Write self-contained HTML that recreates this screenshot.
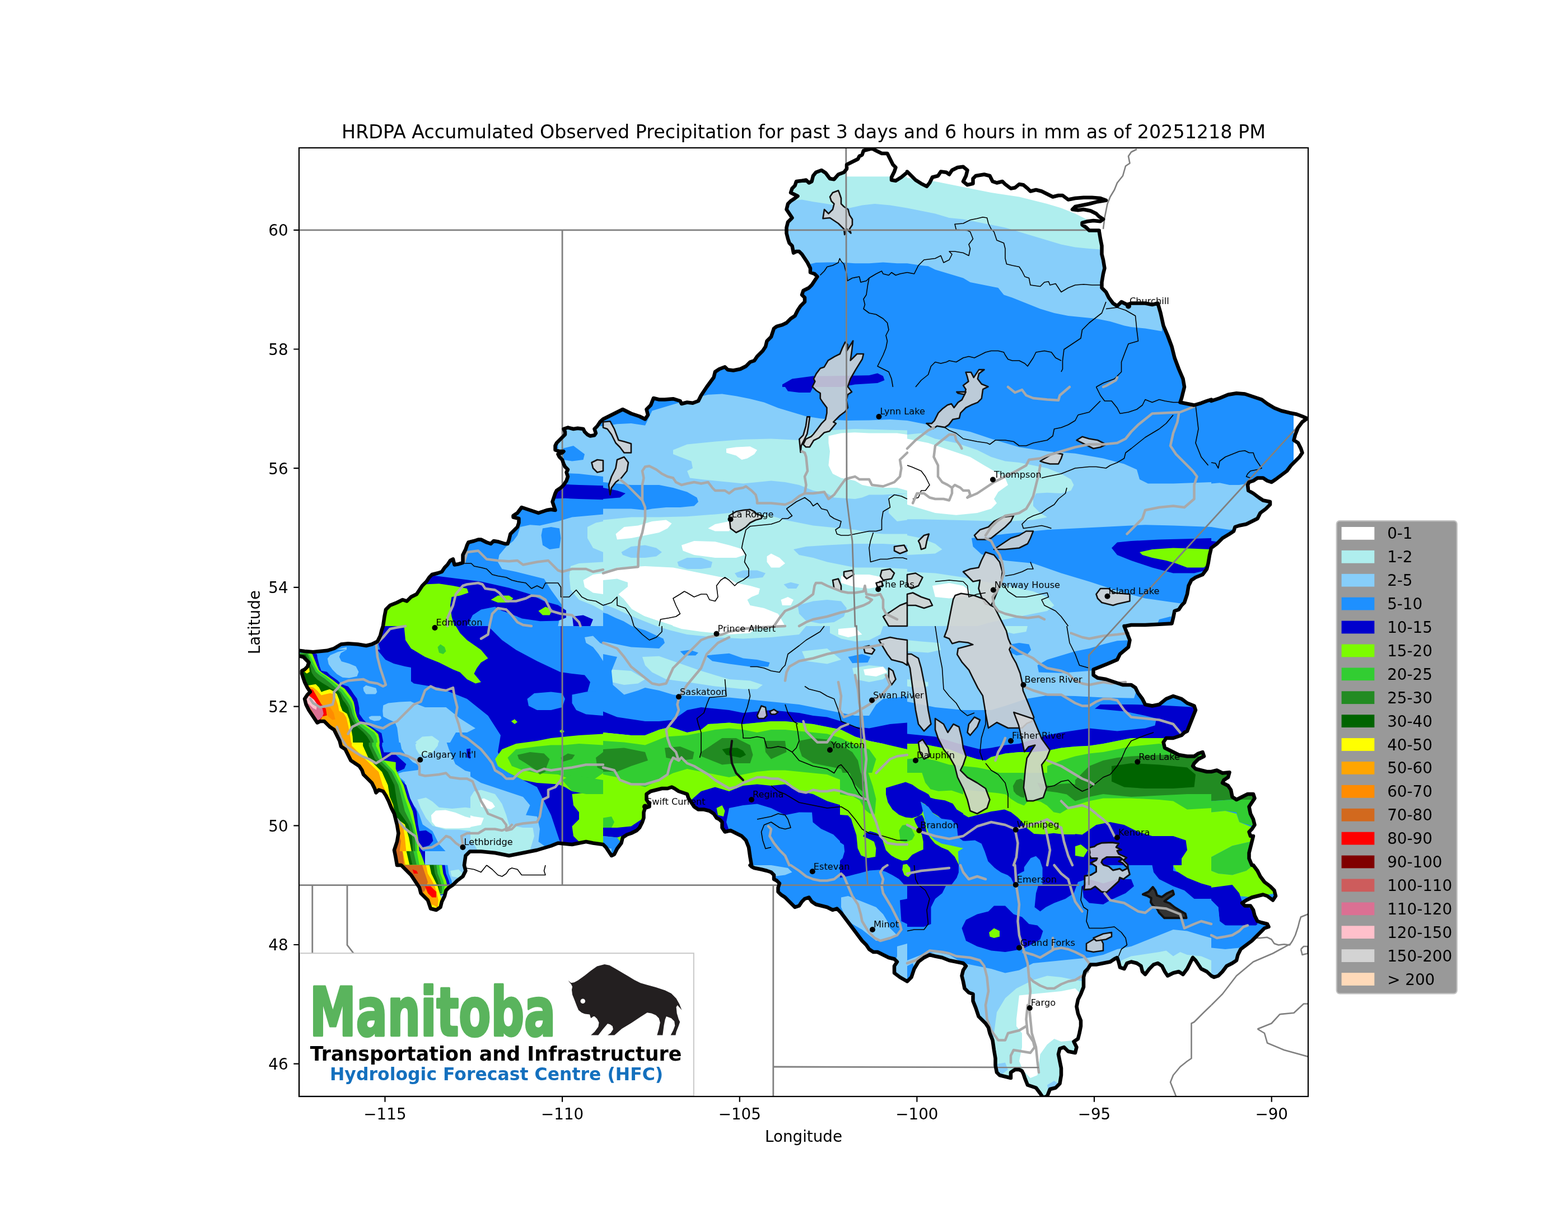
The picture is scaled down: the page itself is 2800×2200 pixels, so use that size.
<!DOCTYPE html><html><head><meta charset="utf-8"><title>HRDPA Accumulated Observed Precipitation</title>
<style>html,body{margin:0;padding:0;background:#fff;}svg{display:block;}text{font-family:"DejaVu Sans","Liberation Sans",sans-serif;}</style></head><body>
<svg xmlns="http://www.w3.org/2000/svg" width="2800" height="2200" viewBox="0 0 2800 2200">
<rect x="0" y="0" width="2800" height="2200" fill="#fff"/>
<defs>
<clipPath id="axclip"><rect x="534" y="264" width="1802" height="1694"/></clipPath>
<clipPath id="basin"><polygon points="534.0,1161.8 544.0,1163.0 559.0,1164.2 571.5,1163.0 584.0,1161.8 596.5,1158.0 609.0,1150.5 621.5,1149.2 639.0,1150.5 654.0,1153.0 664.0,1150.5 674.0,1145.5 679.0,1135.5 681.5,1125.5 684.0,1118.0 684.0,1118.0 686.5,1101.0 689.0,1088.5 696.5,1081.0 709.0,1076.0 719.0,1071.0 726.5,1073.5 734.0,1066.0 744.0,1061.0 749.0,1053.5 754.0,1046.0 761.5,1038.5 766.5,1031.0 771.5,1026.0 781.5,1023.5 789.0,1021.0 794.0,1013.5 799.0,1008.5 804.0,1001.0 809.0,998.5 811.5,1008.5 819.0,1007.2 826.5,1004.8 826.5,991.0 831.5,981.0 834.0,973.5 836.5,968.5 846.5,966.0 854.0,963.5 859.0,963.5 869.0,968.5 876.5,971.0 881.5,966.0 889.0,967.2 901.5,971.0 906.5,971.0 909.0,963.5 911.5,953.5 916.5,948.5 924.0,941.0 926.5,933.5 926.5,926.0 916.5,923.5 916.5,921.0 924.0,916.0 931.5,906.0 939.0,908.5 946.5,911.0 954.0,913.5 961.5,916.0 969.0,913.5 976.5,911.0 984.0,909.8 991.5,911.0 989.0,903.5 986.5,896.0 989.0,888.5 991.5,881.0 994.0,876.0 1001.5,871.0 1006.5,866.0 1011.5,858.5 1014.0,851.0 1011.5,843.5 1014.0,838.5 1009.0,833.5 1006.5,828.5 1004.0,821.0 999.0,816.0 996.5,811.0 1004.0,808.5 1006.5,806.0 999.0,806.0 991.5,803.5 991.5,796.0 994.0,791.0 999.0,786.0 1004.0,781.0 1009.0,776.0 1009.0,771.0 1006.5,766.0 1014.0,763.5 1024.0,766.0 1031.5,764.8 1041.5,766.0 1044.0,771.0 1049.0,776.0 1054.0,778.5 1061.5,777.2 1064.0,773.5 1061.5,766.0 1066.5,761.0 1071.5,753.5 1077.0,748.5 1077.0,748.5 1087.0,743.5 1097.0,738.5 1112.0,731.0 1127.0,738.5 1142.0,743.5 1152.0,748.5 1157.0,741.0 1154.5,731.0 1162.0,723.5 1167.0,711.0 1177.0,713.5 1187.0,713.5 1202.0,712.2 1214.5,716.0 1217.0,721.0 1227.0,718.5 1237.0,719.8 1247.0,716.0 1252.0,706.0 1257.0,698.5 1262.0,691.0 1262.0,691.0 1274.5,674.0 1277.0,664.0 1284.5,659.0 1294.5,655.2 1299.5,660.2 1309.5,661.5 1322.0,659.0 1332.0,654.0 1339.5,646.5 1347.0,644.0 1352.0,636.5 1362.0,626.5 1367.0,619.0 1369.5,609.0 1377.0,601.5 1379.5,594.0 1382.0,586.5 1387.0,582.8 1397.0,580.2 1404.5,576.5 1412.0,569.0 1419.5,564.0 1424.5,554.0 1429.5,546.5 1437.0,539.0 1437.0,531.5 1432.0,526.5 1434.5,519.0 1444.5,514.0 1449.5,509.0 1454.5,501.5 1459.5,494.0 1454.5,489.0 1447.0,486.5 1447.0,479.0 1442.0,469.0 1437.0,461.5 1432.0,454.0 1427.0,449.0 1422.0,449.0 1417.0,451.5 1414.5,439.0 1409.5,434.0 1407.0,426.5 1404.5,416.5 1404.5,406.5 1407.0,396.5 1414.5,389.0 1409.5,381.5 1404.5,374.0 1407.0,364.0 1412.0,359.0 1419.5,354.0 1424.5,350.2 1417.0,346.5 1412.0,344.0 1414.5,336.5 1419.5,331.5 1422.0,324.0 1432.0,322.8 1439.5,321.5 1444.5,326.5 1449.5,324.0 1452.0,314.0 1457.0,307.8 1467.0,304.0 1474.5,309.0 1482.0,319.0 1489.5,320.2 1497.0,311.5 1507.0,307.8 1512.0,301.5 1512.0,294.0 1522.0,289.0 1532.0,284.0 1534.5,279.0 1539.5,276.5 1542.0,269.0 1552.0,266.5 1557.0,265.2 1564.5,269.0 1574.5,274.0 1584.5,274.0 1589.5,284.0 1594.5,294.0 1599.5,299.0 1597.0,306.5 1592.0,316.5 1592.0,321.5 1599.5,322.8 1609.5,316.5 1620.0,307.8 1620.0,306.5 1627.5,314.0 1635.0,321.5 1645.0,327.8 1655.0,332.8 1660.0,326.5 1665.0,316.5 1675.0,314.0 1680.0,306.5 1690.0,307.8 1695.0,311.5 1700.0,304.0 1710.0,299.0 1720.0,297.8 1727.5,304.0 1725.0,314.0 1720.0,324.0 1727.5,330.2 1737.5,327.8 1737.5,319.0 1742.5,314.0 1757.5,311.5 1767.5,314.0 1772.5,324.0 1780.0,326.5 1790.0,324.0 1795.0,329.0 1805.0,336.5 1812.5,335.2 1820.0,329.0 1827.5,330.2 1835.0,336.5 1840.0,341.5 1850.0,339.0 1860.0,341.5 1870.0,346.5 1880.0,351.5 1890.0,349.0 1897.5,349.0 1907.5,356.5 1920.0,354.0 1935.0,352.8 1950.0,352.8 1965.0,354.0 1975.0,357.8 1960.0,360.2 1945.0,364.0 1932.5,366.5 1920.0,369.0 1915.0,374.0 1925.0,375.2 1935.0,374.0 1947.5,376.5 1957.5,381.5 1962.5,386.5 1970.0,391.5 1965.0,395.2 1952.5,394.0 1942.5,395.2 1932.5,397.8 1932.5,401.5 1940.0,406.5 1945.0,411.5 1962.5,411.5 1965.0,426.5 1967.5,439.0 1967.5,454.0 1970.0,464.0 1972.5,479.0 1970.0,489.0 1967.5,504.0 1967.5,514.0 1975.0,521.5 1980.0,531.5 1987.5,541.5 1995.0,546.5 2002.5,539.0 2012.5,544.0 2020.0,541.5 2032.5,541.5 2045.0,541.5 2057.5,544.0 2067.5,541.5 2072.5,559.0 2077.5,581.5 2085.0,599.0 2092.5,619.0 2097.5,639.0 2105.0,659.0 2112.5,676.5 2115.0,691.0 2115.0,691.0 2112.5,701.0 2110.0,711.0 2107.5,718.5 2120.0,721.0 2132.5,723.5 2145.0,719.8 2155.0,716.0 2163.0,713.5 2163.0,716.0 2178.0,711.0 2193.0,704.8 2208.0,702.2 2223.0,703.5 2238.0,708.5 2253.0,713.5 2263.0,721.0 2275.5,728.5 2288.0,733.5 2303.0,737.2 2315.5,739.8 2325.5,743.5 2334.2,747.2 2325.5,753.5 2318.0,763.5 2313.0,776.0 2310.5,786.0 2318.0,791.0 2323.0,801.0 2325.5,808.5 2320.5,816.0 2313.0,823.5 2305.5,831.0 2298.0,841.0 2288.0,848.5 2278.0,856.0 2270.5,861.0 2263.0,858.5 2255.5,853.5 2245.5,853.5 2238.0,858.5 2230.5,861.0 2228.0,866.0 2229.2,876.0 2238.0,881.0 2248.0,888.5 2255.5,893.5 2268.0,896.0 2268.0,901.0 2260.5,908.5 2250.5,916.0 2245.5,926.0 2235.5,931.0 2225.5,936.0 2213.0,938.5 2205.5,941.0 2203.0,948.5 2195.5,953.5 2183.0,961.0 2173.0,971.0 2163.0,978.5 2163.0,978.5 2160.0,991.0 2157.5,1006.0 2155.0,1016.0 2147.5,1026.0 2135.0,1031.0 2127.5,1036.0 2122.5,1046.0 2120.0,1061.0 2115.0,1076.0 2110.0,1081.0 2105.0,1088.5 2097.5,1091.0 2095.0,1103.5 2092.5,1113.5 2070.0,1114.8 2045.0,1116.0 2020.0,1116.0 2010.0,1118.0 2007.5,1118.0 2012.5,1130.5 2017.5,1143.0 2015.0,1155.5 2000.0,1168.0 1995.0,1178.0 1977.5,1185.5 1965.0,1190.5 1952.5,1195.5 1952.5,1205.5 1960.0,1210.5 1975.0,1213.0 1990.0,1218.0 2005.0,1223.0 2020.0,1223.0 2027.5,1228.0 2032.5,1238.0 2040.0,1248.0 2045.0,1258.0 2057.5,1260.5 2070.0,1258.0 2082.5,1248.0 2095.0,1243.0 2110.0,1248.0 2120.0,1255.5 2132.5,1260.5 2135.0,1268.0 2130.0,1280.5 2125.0,1293.0 2120.0,1305.5 2115.0,1308.0 2110.0,1313.0 2095.0,1318.0 2082.5,1318.0 2077.5,1325.5 2080.0,1335.5 2095.0,1343.0 2105.0,1348.0 2120.0,1350.5 2132.5,1350.5 2140.0,1345.5 2147.5,1343.0 2150.0,1350.5 2140.0,1355.5 2132.5,1363.0 2130.0,1368.0 2135.0,1373.0 2145.0,1375.5 2155.0,1378.0 2163.0,1378.0 2163.0,1378.0 2173.0,1375.5 2183.0,1380.5 2195.5,1379.2 2193.0,1388.0 2185.5,1393.0 2183.0,1398.0 2193.0,1403.0 2198.0,1410.5 2200.5,1423.0 2208.0,1428.0 2218.0,1423.0 2228.0,1418.0 2238.0,1418.0 2240.5,1425.5 2235.5,1433.0 2230.5,1440.5 2233.0,1453.0 2238.0,1463.0 2240.5,1473.0 2235.5,1480.5 2230.5,1485.5 2233.0,1493.0 2238.0,1493.0 2235.5,1503.0 2233.0,1513.0 2230.5,1523.0 2230.5,1533.0 2235.5,1545.0 2238.0,1545.0 2245.5,1555.0 2250.5,1565.0 2258.0,1575.0 2268.0,1582.5 2275.5,1590.0 2278.0,1600.0 2273.0,1607.5 2263.0,1600.0 2255.5,1597.5 2245.5,1600.0 2235.5,1602.5 2225.5,1607.5 2218.0,1612.5 2223.0,1617.5 2233.0,1617.5 2238.0,1625.0 2240.5,1635.0 2245.5,1645.0 2253.0,1647.5 2263.0,1650.0 2265.5,1655.0 2258.0,1657.5 2250.5,1665.0 2243.0,1672.5 2235.5,1680.0 2225.5,1687.5 2215.5,1695.0 2210.5,1705.0 2208.0,1715.0 2200.5,1720.0 2190.5,1725.0 2183.0,1735.0 2175.5,1742.5 2168.0,1745.0 2163.0,1742.5 2163.0,1742.5 2155.0,1735.0 2145.0,1730.0 2135.0,1715.0 2130.0,1710.0 2125.0,1720.0 2120.0,1730.0 2112.5,1740.0 2105.0,1735.0 2095.0,1737.5 2085.0,1742.5 2080.0,1735.0 2075.0,1725.0 2067.5,1720.0 2060.0,1722.5 2052.5,1730.0 2045.0,1740.0 2040.0,1735.0 2037.5,1725.0 2030.0,1720.0 2020.0,1717.5 2012.5,1720.0 2007.5,1730.0 2000.0,1727.5 1997.5,1717.5 1995.0,1710.0 1990.0,1712.5 1982.5,1717.5 1970.0,1720.0 1957.5,1722.5 1947.5,1722.5 1942.5,1730.0 1937.5,1735.0 1935.0,1745.0 1935.0,1762.5 1930.0,1775.0 1925.0,1785.0 1922.5,1797.5 1925.0,1810.0 1930.0,1822.5 1930.0,1832.5 1927.5,1845.0 1925.0,1855.0 1917.5,1860.0 1922.5,1870.0 1920.0,1880.0 1907.5,1877.5 1900.0,1870.0 1892.5,1872.5 1890.0,1882.5 1892.5,1895.0 1895.0,1907.5 1895.0,1920.0 1892.5,1935.0 1885.0,1942.5 1875.0,1945.0 1870.0,1957.5 1862.5,1960.0 1857.5,1952.5 1850.0,1942.5 1842.5,1940.0 1835.0,1937.5 1830.0,1925.0 1827.5,1917.5 1825.0,1912.5 1820.0,1910.0 1812.5,1910.0 1805.0,1915.0 1805.0,1925.0 1795.0,1922.5 1785.0,1920.0 1780.0,1915.0 1777.5,1902.5 1777.5,1890.0 1775.0,1875.0 1772.5,1857.5 1767.5,1845.0 1765.0,1835.0 1760.0,1827.5 1752.5,1820.0 1747.5,1815.0 1742.5,1800.0 1737.5,1787.5 1737.5,1775.0 1730.0,1772.5 1722.5,1765.0 1720.0,1752.5 1717.5,1742.5 1720.0,1732.5 1725.0,1725.0 1720.0,1720.0 1707.5,1717.5 1695.0,1715.0 1682.5,1710.0 1670.0,1707.5 1660.0,1705.0 1650.0,1710.0 1640.0,1717.5 1632.5,1730.0 1627.5,1745.0 1620.0,1752.5 1620.0,1752.5 1607.0,1745.0 1597.0,1737.5 1597.0,1725.0 1602.0,1717.5 1597.0,1712.5 1587.0,1710.0 1577.0,1705.0 1567.0,1700.0 1559.5,1700.0 1552.0,1695.0 1547.0,1687.5 1539.5,1680.0 1532.0,1670.0 1524.5,1660.0 1517.0,1650.0 1509.5,1640.0 1502.0,1630.0 1494.5,1622.5 1487.0,1625.0 1477.0,1620.0 1467.0,1617.5 1457.0,1615.0 1449.5,1610.0 1444.5,1602.5 1437.0,1605.0 1432.0,1610.0 1427.0,1617.5 1419.5,1620.0 1414.5,1615.0 1409.5,1610.0 1402.0,1602.5 1394.5,1597.5 1389.5,1592.5 1389.5,1585.0 1392.0,1577.5 1387.0,1572.5 1382.0,1570.0 1382.0,1562.5 1377.0,1557.5 1369.5,1555.0 1359.5,1552.5 1347.0,1550.0 1342.0,1547.5 1339.5,1545.0 1342.0,1545.0 1339.5,1530.5 1337.0,1513.0 1332.0,1500.5 1324.5,1493.0 1314.5,1488.0 1304.5,1483.0 1294.5,1485.5 1289.5,1478.0 1289.5,1468.0 1284.5,1463.0 1279.5,1460.5 1274.5,1453.0 1267.0,1448.0 1257.0,1445.5 1247.0,1445.5 1239.5,1440.5 1234.5,1433.0 1229.5,1425.5 1227.0,1418.0 1219.5,1415.5 1212.0,1413.0 1204.5,1408.0 1199.5,1405.5 1192.0,1408.0 1182.0,1408.0 1172.0,1410.5 1162.0,1413.0 1154.5,1418.0 1154.5,1428.0 1159.5,1435.5 1159.5,1440.5 1152.0,1443.0 1149.5,1450.5 1149.5,1460.5 1147.0,1468.0 1142.0,1478.0 1137.0,1483.0 1127.0,1488.0 1119.5,1490.5 1112.0,1495.5 1109.5,1505.5 1102.0,1515.5 1097.0,1525.5 1092.0,1528.0 1087.0,1520.5 1082.0,1513.0 1077.0,1508.0 1077.0,1508.0 1059.0,1505.5 1046.5,1503.0 1034.0,1505.5 1021.5,1508.0 996.5,1505.5 984.0,1510.5 959.0,1518.0 934.0,1523.0 909.0,1528.0 884.0,1523.0 859.0,1520.5 839.0,1520.5 831.5,1528.0 829.0,1545.0 829.0,1545.0 831.5,1555.0 826.5,1565.0 816.5,1572.5 809.0,1580.0 801.5,1585.0 796.5,1590.0 794.0,1600.0 789.0,1610.0 786.5,1620.0 779.0,1625.0 769.0,1622.5 766.5,1615.0 764.0,1607.5 756.5,1600.0 751.5,1595.0 749.0,1585.0 744.0,1577.5 739.0,1570.0 734.0,1562.5 726.5,1555.0 719.0,1547.5 716.5,1545.0 709.0,1545.0 706.5,1530.5 704.0,1518.0 709.0,1503.0 711.5,1488.0 709.0,1473.0 706.5,1463.0 704.0,1453.0 699.0,1443.0 694.0,1430.5 689.0,1420.5 684.0,1413.0 676.5,1410.5 671.5,1415.5 669.0,1408.0 664.0,1398.0 656.5,1390.5 649.0,1383.0 646.5,1375.5 641.5,1368.0 634.0,1363.0 626.5,1358.0 621.5,1348.0 616.5,1338.0 609.0,1333.0 606.5,1323.0 601.5,1313.0 596.5,1303.0 589.0,1298.0 584.0,1293.0 579.0,1288.0 571.5,1288.0 566.5,1290.5 561.5,1283.0 556.5,1275.5 551.5,1268.0 546.5,1258.0 544.0,1248.0 549.0,1240.5 554.0,1235.5 549.0,1228.0 544.0,1218.0 541.5,1210.5 539.0,1203.0 539.0,1198.0 544.0,1195.5 549.0,1190.5 551.5,1183.0 546.5,1178.0 541.5,1173.0 529.0,1170.5 529.0,1161.8"/></clipPath>
</defs>
<g clip-path="url(#axclip)">
<defs>
<clipPath id="ct01"><rect x="533.7" y="690.7" width="543.6" height="427.6"/></clipPath>
<clipPath id="ct02"><rect x="533.7" y="1117.7" width="543.6" height="427.6"/></clipPath>
<clipPath id="ct03"><rect x="533.7" y="1544.7" width="543.6" height="427.6"/></clipPath>
<clipPath id="ct10"><rect x="1076.7" y="263.7" width="543.6" height="427.6"/></clipPath>
<clipPath id="ct11"><rect x="1076.7" y="690.7" width="543.6" height="427.6"/></clipPath>
<clipPath id="ct12"><rect x="1076.7" y="1117.7" width="543.6" height="427.6"/></clipPath>
<clipPath id="ct13"><rect x="1076.7" y="1544.7" width="543.6" height="427.6"/></clipPath>
<clipPath id="ct20"><rect x="1619.7" y="263.7" width="543.6" height="427.6"/></clipPath>
<clipPath id="ct21"><rect x="1619.7" y="690.7" width="543.6" height="427.6"/></clipPath>
<clipPath id="ct22"><rect x="1619.7" y="1117.7" width="543.6" height="427.6"/></clipPath>
<clipPath id="ct23"><rect x="1619.7" y="1544.7" width="543.6" height="427.6"/></clipPath>
<clipPath id="ct31"><rect x="2162.7" y="690.7" width="543.6" height="427.6"/></clipPath>
<clipPath id="ct32"><rect x="2162.7" y="1117.7" width="543.6" height="427.6"/></clipPath>
<clipPath id="ct33"><rect x="2162.7" y="1544.7" width="543.6" height="427.6"/></clipPath>
</defs>
<g clip-path="url(#basin)">
<rect x="520" y="250" width="1830" height="1720" fill="#1E90FF"/>
<g clip-path="url(#ct01)">
<polygon points="996.5,761.0 1077.0,761.0 1077.0,851.0 1034.0,846.0 1009.0,844.8 996.5,841.0" fill="#87CEFA"/>
<polygon points="1004.0,801.0 1024.0,796.0 1044.0,811.0 1041.5,821.0 1021.5,823.5 1006.5,821.0" fill="#1E90FF"/>
<polygon points="979.0,863.5 1009.0,864.8 1034.0,866.0 1077.0,867.2 1077.0,892.2 1034.0,891.0 1009.0,889.8 979.0,891.0" fill="#0000CD"/>
<polygon points="924.0,956.0 929.0,941.0 946.5,937.2 964.0,938.5 996.5,931.0 1021.5,923.5 1077.0,918.5 1077.0,1118.0 996.5,1118.0 1004.0,1081.0 984.0,1053.5 971.5,1033.5 946.5,1027.2 921.5,1021.0 896.5,1016.0 889.0,1003.5 891.5,991.0 904.0,976.0 916.5,966.0" fill="#87CEFA"/>
<polygon points="969.0,943.5 984.0,941.0 999.0,943.5 1001.5,961.0 999.0,978.5 981.5,981.0 969.0,973.5 966.5,956.0" fill="#1E90FF"/>
<polygon points="1049.0,941.0 1064.0,933.5 1077.0,931.0 1077.0,986.0 1059.0,978.5 1049.0,961.0" fill="#AFEEEE"/>
<polygon points="1019.0,1011.0 1034.0,1006.0 1077.0,1003.5 1077.0,1091.0 1059.0,1081.0 1034.0,1071.0 1019.0,1053.5 1016.5,1028.5" fill="#AFEEEE"/>
<polygon points="1041.5,1036.0 1059.0,1026.0 1077.0,1023.5 1077.0,1061.0 1059.0,1058.5 1044.0,1048.5" fill="#FFFFFF"/>
<polygon points="759.0,1026.0 809.0,1032.2 859.0,1038.5 909.0,1049.8 946.5,1061.0 972.5,1074.0 996.5,1080.5 1011.0,1090.0 1011.0,1103.0 996.5,1108.5 964.5,1109.2 932.2,1104.5 900.0,1091.8 884.0,1088.5 859.0,1091.0 844.0,1098.5 834.0,1118.0 684.0,1118.0 684.0,1066.0 734.0,1036.0" fill="#0000CD"/>
<polygon points="1022.0,1101.0 1041.5,1098.5 1059.0,1106.0 1054.0,1118.5 1024.0,1118.5" fill="#0000CD"/>
<polygon points="684.0,1091.0 709.0,1071.0 749.0,1051.0 759.0,1043.5 784.0,1042.2 809.0,1046.0 834.0,1051.0 836.5,1058.5 821.5,1063.5 806.5,1066.0 804.0,1081.0 806.5,1101.0 811.5,1118.0 684.0,1118.0" fill="#7CFC00"/>
<polygon points="876.5,1071.0 889.0,1063.5 909.0,1063.5 916.5,1068.5 909.0,1076.0 889.0,1076.0" fill="#7CFC00"/>
<polygon points="961.5,1091.0 974.0,1083.5 986.5,1088.5 981.5,1098.5 969.0,1098.5" fill="#7CFC00"/>
<polygon points="844.0,1098.5 859.0,1088.5 884.0,1083.5 896.5,1091.0 924.0,1101.0 939.0,1116.0 939.0,1118.0 844.0,1118.0" fill="#1E90FF"/>
</g>
<g clip-path="url(#ct10)">
<polygon points="1377.0,264.0 1620.0,264.0 1620.0,470.2 1602.0,470.2 1577.0,468.5 1552.0,470.2 1527.0,470.2 1502.0,468.5 1477.0,468.5 1457.0,469.0 1447.0,471.5 1377.0,471.5" fill="#87CEFA"/>
<polygon points="1377.0,264.0 1620.0,264.0 1620.0,371.5 1589.5,366.5 1562.0,364.0 1539.5,366.5 1517.0,371.5 1502.0,369.0 1477.0,364.0 1452.0,360.2 1432.0,356.5 1409.5,359.0 1377.0,359.0" fill="#AFEEEE"/>
<polygon points="1397.0,686.5 1414.5,676.5 1452.0,671.5 1477.0,671.5 1514.5,671.0 1552.0,670.2 1567.0,666.5 1577.0,671.5 1579.5,679.0 1567.0,684.0 1527.0,686.5 1502.0,691.0 1397.0,691.0" fill="#0000CD"/>
</g>
<g clip-path="url(#ct20)">
<polygon points="1620.0,264.0 2070.0,264.0 2075.0,591.5 2045.0,586.5 2020.0,584.0 2007.5,581.5 1982.5,574.0 1957.5,569.0 1932.5,566.5 1907.5,564.0 1882.5,559.0 1857.5,551.5 1832.5,541.5 1807.5,531.5 1792.5,526.5 1782.5,514.0 1770.0,511.5 1745.0,506.5 1732.5,504.0 1720.0,496.5 1695.0,489.0 1670.0,481.5 1657.5,475.2 1645.0,474.0 1620.0,470.2" fill="#87CEFA"/>
<polygon points="1620.0,264.0 2070.0,264.0 1970.0,449.0 1962.5,445.2 1945.0,444.0 1920.0,441.5 1895.0,436.5 1870.0,429.0 1845.0,421.5 1820.0,414.0 1795.0,406.5 1770.0,401.5 1745.0,396.5 1720.0,391.5 1695.0,389.0 1670.0,381.5 1645.0,376.5 1620.0,371.5" fill="#AFEEEE"/>
<polygon points="1617.5,261.5 2070.0,261.5 2070.0,404.0 1970.0,404.0 1945.0,394.0 1920.0,381.5 1895.0,371.5 1870.0,364.0 1820.0,351.5 1770.0,344.0 1720.0,334.0 1670.0,324.0 1620.0,317.8 1617.5,317.8" fill="#FFFFFF"/>
</g>
<g clip-path="url(#ct11)">
<polygon points="1077.0,761.0 1102.0,757.2 1127.0,756.0 1152.0,759.8 1164.5,733.5 1189.5,726.0 1214.5,718.5 1239.5,711.0 1264.5,704.8 1289.5,703.5 1314.5,707.2 1339.5,712.2 1364.5,718.5 1389.5,728.5 1414.5,736.0 1439.5,743.5 1464.5,747.2 1489.5,749.8 1514.5,751.0 1552.0,750.5 1589.5,749.0 1620.0,751.0 1620.0,1118.0 1077.0,1118.0" fill="#87CEFA"/>
<polygon points="1402.0,691.0 1452.0,691.0 1447.0,701.0 1427.0,701.0 1407.0,698.5" fill="#0000CD"/>
<polygon points="1202.0,803.5 1227.0,793.5 1277.0,788.5 1327.0,784.8 1377.0,783.5 1427.0,786.0 1452.0,773.5 1477.0,768.5 1527.0,766.0 1620.0,768.5 1620.0,881.0 1577.0,883.5 1552.0,883.5 1539.5,888.5 1527.0,891.0 1489.5,888.5 1477.0,881.0 1452.0,876.0 1427.0,866.0 1402.0,861.0 1377.0,858.5 1352.0,861.0 1327.0,863.5 1302.0,861.0 1277.0,858.5 1252.0,856.0 1232.0,853.5 1227.0,841.0 1237.0,836.0 1234.5,823.5 1214.5,816.0 1202.0,811.0" fill="#AFEEEE"/>
<polygon points="1297.0,801.0 1314.5,798.5 1339.5,797.2 1352.0,803.5 1347.0,811.0 1334.5,818.5 1324.5,821.0 1314.5,813.5 1297.0,808.5" fill="#FFFFFF"/>
<polygon points="1479.5,778.5 1502.0,773.5 1527.0,772.2 1552.0,773.5 1577.0,773.5 1602.0,773.5 1620.0,776.0 1620.0,876.0 1602.0,871.0 1577.0,871.0 1552.0,868.5 1539.5,866.0 1527.0,858.5 1502.0,853.5 1487.0,846.0 1479.5,831.0 1482.0,806.0 1479.5,791.0" fill="#FFFFFF"/>
<polygon points="1077.0,861.0 1102.0,863.5 1127.0,866.0 1152.0,866.0 1177.0,866.0 1202.0,871.0 1227.0,878.5 1244.5,888.5 1247.0,896.0 1239.5,903.5 1214.5,906.0 1189.5,906.0 1164.5,908.5 1152.0,911.0 1127.0,908.5 1102.0,908.5 1077.0,908.5" fill="#1E90FF"/>
<polygon points="1077.0,871.0 1102.0,876.0 1117.0,881.0 1107.0,888.5 1077.0,891.0" fill="#0000CD"/>
<polygon points="1077.0,928.5 1127.0,923.5 1177.0,923.5 1227.0,922.2 1277.0,918.5 1302.0,916.0 1327.0,913.5 1352.0,916.0 1377.0,921.0 1402.0,928.5 1427.0,933.5 1452.0,938.5 1477.0,941.0 1502.0,943.5 1527.0,946.0 1552.0,951.0 1577.0,953.5 1620.0,953.5 1620.0,1118.0 1077.0,1118.0" fill="#AFEEEE"/>
<polygon points="1587.0,886.0 1620.0,881.0 1620.0,928.5 1602.0,931.0 1587.0,916.0" fill="#AFEEEE"/>
<polygon points="1109.5,986.0 1127.0,976.0 1152.0,973.5 1172.0,978.5 1182.0,986.0 1172.0,993.5 1152.0,996.0 1127.0,996.0 1112.0,991.0" fill="#87CEFA"/>
<polygon points="1209.5,1003.5 1227.0,996.0 1252.0,996.0 1272.0,1003.5 1269.5,1013.5 1252.0,1016.0 1227.0,1016.0 1212.0,1011.0" fill="#87CEFA"/>
<polygon points="1312.0,1023.5 1327.0,1018.5 1352.0,1018.5 1367.0,1023.5 1362.0,1031.0 1339.5,1033.5 1317.0,1031.0" fill="#87CEFA"/>
<polygon points="1417.0,981.0 1439.5,976.0 1477.0,973.5 1527.0,971.0 1577.0,971.0 1620.0,973.5 1620.0,1016.0 1577.0,1013.5 1527.0,1013.5 1477.0,1003.5 1452.0,996.0 1427.0,991.0" fill="#87CEFA"/>
<polygon points="1399.5,1043.5 1412.0,1039.8 1427.0,1043.5 1422.0,1051.0 1407.0,1051.0" fill="#87CEFA"/>
<polygon points="1424.5,1081.0 1452.0,1073.5 1477.0,1071.0 1502.0,1073.5 1512.0,1086.0 1507.0,1101.0 1489.5,1111.0 1464.5,1113.5 1439.5,1108.5 1427.0,1096.0" fill="#87CEFA"/>
<polygon points="1099.5,953.5 1114.5,941.0 1139.5,938.5 1164.5,931.0 1189.5,928.5 1199.5,934.8 1192.0,943.5 1177.0,951.0 1152.0,956.0 1127.0,961.0 1102.0,963.5" fill="#FFFFFF"/>
<polygon points="1264.5,943.5 1277.0,936.0 1302.0,931.0 1307.0,941.0 1302.0,948.5 1277.0,948.5" fill="#FFFFFF"/>
<polygon points="1217.0,973.5 1239.5,966.0 1277.0,967.2 1302.0,973.5 1327.0,981.0 1329.5,991.0 1314.5,996.0 1277.0,996.0 1239.5,991.0 1219.5,983.5" fill="#FFFFFF"/>
<polygon points="1369.5,993.5 1377.0,988.5 1392.0,996.0 1402.0,1006.0 1392.0,1013.5 1377.0,1013.5 1369.5,1003.5" fill="#FFFFFF"/>
<polygon points="1077.0,1023.5 1102.0,1013.5 1152.0,1011.0 1202.0,1013.5 1227.0,1018.5 1252.0,1023.5 1277.0,1028.5 1302.0,1033.5 1314.5,1041.0 1339.5,1046.0 1357.0,1051.0 1354.5,1061.0 1342.0,1066.0 1334.5,1071.0 1339.5,1081.0 1364.5,1086.0 1389.5,1096.0 1402.0,1118.0 1202.0,1118.0 1200.0,1116.5 1172.5,1107.8 1150.5,1100.2 1128.2,1087.8 1113.5,1069.5 1104.0,1061.2 1121.0,1047.5 1121.0,1040.0 1102.0,1036.0 1077.0,1036.0" fill="#FFFFFF"/>
<polygon points="1077.0,1036.0 1102.0,1033.5 1121.0,1040.0 1121.0,1047.5 1104.0,1061.2 1113.5,1069.5 1128.2,1087.8 1150.5,1100.2 1172.5,1107.8 1200.0,1116.5 1202.0,1118.0 1077.0,1118.0" fill="#AFEEEE"/>
<polygon points="1077.0,1077.2 1084.2,1081.2 1099.0,1087.0 1113.5,1093.8 1128.2,1100.2 1150.5,1109.2 1172.5,1118.0 1077.0,1118.0" fill="#87CEFA"/>
<polygon points="1077.0,1094.0 1084.2,1096.0 1099.0,1103.2 1113.5,1109.2 1128.2,1118.0 1077.0,1118.0" fill="#1E90FF"/>
<polygon points="1394.5,1071.0 1407.0,1066.0 1417.0,1071.0 1412.0,1081.0 1397.0,1081.0" fill="#FFFFFF"/>
<polygon points="1502.0,1028.5 1527.0,1026.0 1552.0,1026.0 1577.0,1031.0 1577.0,1046.0 1552.0,1051.0 1527.0,1048.5 1502.0,1041.0" fill="#FFFFFF"/>
</g>
<g clip-path="url(#ct21)">
<polygon points="1620.0,751.0 1657.5,758.5 1695.0,763.5 1732.5,771.0 1770.0,783.5 1820.0,798.5 1870.0,806.0 1920.0,809.8 1970.0,818.5 2007.5,828.5 2030.0,838.5 2035.0,856.0 2050.0,863.5 2095.0,863.5 2163.0,861.0 2163.0,1118.0 1620.0,1118.0" fill="#87CEFA"/>
<polygon points="1735.0,961.0 1795.0,953.5 1870.0,946.0 1970.0,941.0 2045.0,937.2 2095.0,938.5 2163.0,941.0 2163.0,1091.0 2115.0,1078.5 2045.0,1068.5 1995.0,1054.8 1945.0,1038.5 1895.0,1023.5 1845.0,1006.0 1795.0,1001.0 1752.5,989.8 1737.5,976.0" fill="#1E90FF"/>
<polygon points="2065.0,1118.0 2070.0,1106.0 2090.0,1101.0 2107.5,1101.0 2107.5,1118.0" fill="#1E90FF"/>
<polygon points="1620.0,776.0 1645.0,773.5 1670.0,783.5 1707.5,791.0 1745.0,803.5 1770.0,816.0 1795.0,823.5 1820.0,826.0 1845.0,831.0 1870.0,836.0 1895.0,846.0 1912.5,856.0 1917.5,866.0 1912.5,876.0 1895.0,881.0 1870.0,879.8 1850.0,881.0 1845.0,891.0 1845.0,903.5 1857.5,916.0 1870.0,923.5 1845.0,928.5 1795.0,931.0 1745.0,929.8 1695.0,928.5 1645.0,927.2 1620.0,927.2" fill="#AFEEEE"/>
<polygon points="1620.0,956.0 1645.0,961.0 1670.0,971.0 1682.5,981.0 1670.0,988.5 1645.0,989.8 1620.0,991.0" fill="#AFEEEE"/>
<polygon points="1620.0,1021.0 1670.0,1023.5 1720.0,1031.0 1745.0,1036.0 1795.0,1046.0 1845.0,1056.0 1870.0,1066.0 1882.5,1081.0 1870.0,1091.0 1845.0,1096.0 1820.0,1101.0 1795.0,1106.0 1770.0,1111.0 1745.0,1118.0 1620.0,1118.0" fill="#AFEEEE"/>
<polygon points="1620.0,783.5 1657.5,791.0 1695.0,803.5 1732.5,816.0 1757.5,831.0 1775.0,841.0 1795.0,853.5 1800.0,866.0 1782.5,878.5 1775.0,891.0 1780.0,898.5 1770.0,908.5 1745.0,916.0 1707.5,919.8 1670.0,916.0 1645.0,908.5 1620.0,901.0" fill="#FFFFFF"/>
<polygon points="1665.0,1046.0 1695.0,1041.0 1720.0,1046.0 1732.5,1056.0 1725.0,1066.0 1695.0,1068.5 1670.0,1066.0" fill="#FFFFFF"/>
<polygon points="1985.0,978.5 1995.0,968.5 2020.0,966.0 2070.0,963.5 2120.0,962.2 2163.0,961.0 2163.0,1016.0 2132.5,1023.5 2095.0,1023.5 2057.5,1013.5 2020.0,1001.0 1995.0,991.0" fill="#0000CD"/>
<polygon points="2035.0,986.0 2057.5,981.0 2095.0,978.5 2132.5,979.8 2163.0,981.0 2163.0,1001.0 2150.0,1013.5 2120.0,1013.5 2100.0,1006.0 2082.5,1001.0 2057.5,996.0 2040.0,991.0" fill="#7CFC00"/>
</g>
<g clip-path="url(#ct31)">
<polygon points="2163.0,863.5 2178.0,862.2 2195.5,866.0 2213.0,866.0 2228.0,863.5 2288.0,863.5 2288.0,991.0 2163.0,991.0" fill="#87CEFA"/>
<polygon points="2163.0,941.0 2178.0,943.5 2195.5,946.0 2205.5,944.8 2238.0,946.0 2238.0,991.0 2163.0,991.0" fill="#1E90FF"/>
<polygon points="2163.0,966.0 2173.0,967.2 2178.0,973.5 2163.0,981.0" fill="#0000CD"/>
<polygon points="2310.0,738.5 2338.0,738.5 2338.0,823.5 2310.0,823.5" fill="#FFFFFF"/>
</g>
<g clip-path="url(#ct22)">
<polygon points="1620.0,1118.0 2020.0,1118.0 2032.5,1223.0 2025.0,1246.8 1970.0,1245.5 1920.0,1243.0 1870.0,1241.8 1832.5,1248.0 1795.0,1260.5 1770.0,1268.0 1720.0,1268.0 1670.0,1263.0 1620.0,1253.0" fill="#87CEFA"/>
<polygon points="1852.5,1188.0 1870.0,1178.0 1895.0,1170.5 1920.0,1163.0 1945.0,1158.0 1970.0,1150.5 1995.0,1144.2 2020.0,1143.0 2020.0,1195.5 1970.0,1194.2 1945.0,1198.0 1895.0,1201.8 1855.0,1200.5" fill="#1E90FF"/>
<polygon points="1805.0,1150.5 1820.0,1148.0 1837.5,1150.5 1841.2,1160.5 1835.0,1168.0 1815.0,1170.5 1805.0,1165.5" fill="#1E90FF"/>
<polygon points="1620.0,1143.0 1645.0,1145.5 1677.5,1148.0 1680.0,1160.5 1657.5,1165.5 1620.0,1163.0" fill="#AFEEEE"/>
<polygon points="1795.0,1118.0 1835.0,1118.0 1832.5,1128.0 1810.0,1131.8 1795.0,1128.0" fill="#AFEEEE"/>
<polygon points="1620.0,1213.0 1640.0,1215.5 1657.5,1218.0 1657.5,1225.5 1635.0,1228.0 1620.0,1225.5" fill="#AFEEEE"/>
<polygon points="1620.0,1310.5 1670.0,1315.5 1720.0,1330.5 1750.0,1338.0 1770.0,1335.5 1795.0,1330.5 1820.0,1328.0 1845.0,1320.5 1870.0,1313.0 1895.0,1308.0 1920.0,1304.2 1945.0,1300.5 1970.0,1303.0 1995.0,1305.5 2020.0,1303.0 2045.0,1300.5 2062.5,1295.5 2065.0,1283.0 2045.0,1278.0 2010.0,1270.5 1955.0,1265.5 1965.0,1258.0 2020.0,1258.0 2070.0,1259.2 2135.0,1263.0 2135.0,1318.0 2082.5,1318.0 2045.0,1318.0 2020.0,1318.0 1995.0,1323.0 1970.0,1328.0 1945.0,1331.8 1920.0,1333.0 1895.0,1335.5 1870.0,1340.5 1845.0,1343.0 1820.0,1343.0 1795.0,1345.5 1770.0,1351.8 1760.0,1358.0 1745.0,1355.5 1720.0,1348.0 1695.0,1338.0 1670.0,1333.0 1645.0,1328.0 1620.0,1328.0" fill="#0000CD"/>
<polygon points="1620.0,1328.0 1645.0,1328.0 1670.0,1333.0 1695.0,1338.0 1720.0,1348.0 1745.0,1355.5 1760.0,1358.0 1770.0,1351.8 1795.0,1345.5 1820.0,1343.0 1845.0,1343.0 1870.0,1340.5 1895.0,1335.5 1920.0,1333.0 1945.0,1331.8 1970.0,1328.0 1995.0,1323.0 2020.0,1318.0 2045.0,1318.0 2082.5,1318.0 2163.0,1318.0 2163.0,1545.0 1620.0,1545.0" fill="#7CFC00"/>
<polygon points="1620.0,1355.5 1645.0,1353.0 1670.0,1358.0 1695.0,1365.5 1720.0,1368.0 1745.0,1370.5 1770.0,1375.5 1795.0,1383.0 1807.5,1393.0 1820.0,1393.0 1827.5,1403.0 1820.0,1418.0 1795.0,1423.0 1770.0,1428.0 1745.0,1425.5 1720.0,1423.0 1695.0,1423.0 1670.0,1413.0 1657.5,1400.5 1645.0,1388.0 1620.0,1383.0" fill="#32CD32"/>
<polygon points="1870.0,1368.0 1895.0,1358.0 1920.0,1350.5 1945.0,1345.5 1970.0,1343.0 1995.0,1338.0 2020.0,1333.0 2045.0,1330.5 2070.0,1328.0 2095.0,1333.0 2120.0,1343.0 2163.0,1343.0 2163.0,1443.0 2120.0,1445.5 2107.5,1438.0 2095.0,1430.5 2070.0,1428.0 2020.0,1425.5 1970.0,1425.5 1945.0,1430.5 1920.0,1438.0 1895.0,1448.0 1882.5,1443.0 1870.0,1418.0" fill="#32CD32"/>
<polygon points="1807.5,1395.5 1820.0,1390.5 1832.5,1393.0 1845.0,1403.0 1837.5,1418.0 1820.0,1420.5 1810.0,1408.0" fill="#228B22"/>
<polygon points="1870.0,1405.5 1895.0,1398.0 1920.0,1393.0 1945.0,1368.0 1970.0,1358.0 1995.0,1353.0 2020.0,1350.5 2070.0,1348.0 2120.0,1348.0 2163.0,1353.0 2163.0,1418.0 2120.0,1418.0 2070.0,1420.5 2020.0,1423.0 1970.0,1418.0 1945.0,1423.0 1920.0,1430.5 1895.0,1428.0 1870.0,1418.0" fill="#228B22"/>
<polygon points="1985.0,1368.0 2020.0,1363.0 2070.0,1365.5 2120.0,1370.5 2135.0,1383.0 2132.5,1405.5 2095.0,1408.0 2045.0,1408.0 2007.5,1405.5 1985.0,1395.5" fill="#006400"/>
<polygon points="1620.0,1393.0 1650.0,1405.5 1670.0,1428.0 1707.5,1440.5 1745.0,1443.0 1795.0,1443.0 1820.0,1455.5 1845.0,1473.0 1870.0,1480.5 1907.5,1488.0 1932.5,1490.5 1957.5,1473.0 1982.5,1468.0 2007.5,1473.0 2032.5,1485.5 2057.5,1493.0 2095.0,1493.0 2117.5,1500.5 2120.0,1518.0 2110.0,1533.0 2110.0,1545.0 1620.0,1545.0" fill="#0000CD"/>
<polygon points="1650.0,1430.5 1682.5,1435.5 1702.5,1450.5 1695.0,1473.0 1670.0,1480.5 1657.5,1463.0 1650.0,1443.0" fill="#1E90FF"/>
<polygon points="1740.0,1480.5 1770.0,1473.0 1795.0,1483.0 1800.0,1508.0 1782.5,1530.5 1757.5,1543.0 1740.0,1518.0" fill="#1E90FF"/>
<polygon points="1620.0,1463.0 1640.0,1468.0 1647.5,1488.0 1635.0,1503.0 1620.0,1505.5" fill="#7CFC00"/>
<polygon points="1915.0,1513.0 1930.0,1508.0 1942.5,1518.0 1935.0,1530.5 1920.0,1528.0" fill="#7CFC00"/>
</g>
<g clip-path="url(#ct02)">
<polygon points="674.0,1118.0 1077.0,1118.0 1077.0,1508.0 1001.5,1508.0 984.0,1455.5 959.0,1405.5 909.0,1380.5 889.0,1343.0 894.0,1313.0 871.5,1278.0 834.0,1248.0 784.0,1228.0 739.0,1220.5 684.0,1178.0 674.0,1143.0" fill="#0000CD"/>
<polygon points="871.5,1118.0 1001.5,1118.0 1001.5,1200.5 959.0,1180.5 921.5,1160.5 896.5,1143.0" fill="#1E90FF"/>
<polygon points="1004.0,1118.0 1077.0,1118.0 1077.0,1235.5 1049.0,1235.5 1054.0,1218.0 1044.0,1205.5 1021.5,1203.0 1004.0,1200.5" fill="#1E90FF"/>
<polygon points="1044.0,1138.0 1059.0,1135.5 1071.5,1148.0 1077.0,1150.5 1077.0,1180.5 1069.0,1168.0 1059.0,1155.5 1046.5,1148.0" fill="#87CEFA"/>
<polygon points="941.5,1248.0 954.0,1238.0 984.0,1235.5 1004.0,1238.0 1009.0,1248.0 1004.0,1263.0 984.0,1268.0 959.0,1268.0 944.0,1260.5" fill="#1E90FF"/>
<polygon points="1021.5,1240.5 1046.5,1235.5 1077.0,1233.0 1077.0,1278.0 1046.5,1275.5 1029.0,1268.0 1021.5,1255.5" fill="#1E90FF"/>
<polygon points="721.5,1118.0 814.0,1118.0 821.5,1130.5 834.0,1143.0 859.0,1160.5 871.5,1175.5 859.0,1183.0 851.5,1193.0 846.5,1203.0 859.0,1218.0 849.0,1220.5 834.0,1213.0 821.5,1200.5 809.0,1195.5 784.0,1183.0 759.0,1173.0 734.0,1158.0 724.0,1143.0" fill="#7CFC00"/>
<polygon points="781.5,1155.5 786.5,1150.5 794.0,1155.5 796.5,1163.0 791.5,1168.0 784.0,1165.5" fill="#32CD32"/>
<polygon points="884.0,1355.5 896.5,1338.0 921.5,1328.0 959.0,1323.0 984.0,1318.0 1009.0,1315.5 1034.0,1313.0 1077.0,1310.5 1077.0,1403.0 1059.0,1400.5 1046.5,1413.0 1034.0,1408.0 1021.5,1413.0 1009.0,1405.5 996.5,1400.5 959.0,1398.0 934.0,1393.0 909.0,1380.5 889.0,1368.0" fill="#7CFC00"/>
<polygon points="1021.5,1418.0 1046.5,1415.5 1077.0,1418.0 1077.0,1505.5 1034.0,1503.0 1024.0,1493.0 1021.5,1475.5 1034.0,1463.0 1034.0,1450.5 1024.0,1438.0" fill="#7CFC00"/>
<polygon points="912.8,1288.0 919.0,1284.2 924.0,1289.2 919.0,1293.0" fill="#7CFC00"/>
<polygon points="999.0,1305.5 1004.0,1301.8 1007.8,1306.8 1002.8,1309.2" fill="#7CFC00"/>
<polygon points="906.5,1353.0 921.5,1338.0 959.0,1333.0 984.0,1330.5 1009.0,1330.5 1034.0,1328.0 1077.0,1330.5 1077.0,1380.5 1059.0,1393.0 1046.5,1400.5 1021.5,1393.0 996.5,1383.0 959.0,1380.5 934.0,1375.5 914.0,1368.0" fill="#32CD32"/>
<polygon points="1004.0,1393.0 1021.5,1383.0 1046.5,1388.0 1077.0,1393.0 1077.0,1418.0 1046.5,1418.0 1021.5,1413.0" fill="#32CD32"/>
<polygon points="924.0,1348.0 946.5,1343.0 971.5,1345.5 981.5,1355.5 976.5,1368.0 974.0,1378.0 964.0,1383.0 954.0,1373.0 939.0,1363.0 926.5,1355.5" fill="#228B22"/>
<polygon points="1001.5,1353.0 1014.0,1345.5 1026.5,1348.0 1021.5,1355.5 1004.0,1360.5" fill="#228B22"/>
<polygon points="1064.0,1353.0 1077.0,1343.0 1077.0,1375.5 1066.5,1370.5" fill="#228B22"/>
<polygon points="584.0,1175.5 599.0,1160.5 619.0,1155.5 619.0,1168.0 606.5,1178.0 609.0,1193.0 621.5,1195.5 634.0,1193.0 641.5,1200.5 636.5,1208.0 609.0,1210.5 594.0,1203.0 586.5,1190.5" fill="#87CEFA"/>
<polygon points="649.0,1225.5 659.0,1223.0 671.5,1230.5 672.8,1238.0 664.0,1240.5 651.5,1238.0" fill="#87CEFA"/>
<polygon points="659.0,1280.5 671.5,1278.0 681.5,1283.0 676.5,1288.0 664.0,1288.0" fill="#87CEFA"/>
<polygon points="684.0,1258.0 734.0,1253.0 759.0,1263.0 796.5,1263.0 821.5,1283.0 849.0,1300.5 834.0,1308.0 814.0,1308.0 804.0,1325.5 784.0,1343.0 759.0,1358.0 751.5,1373.0 771.5,1378.0 796.5,1363.0 821.5,1375.5 859.0,1398.0 896.5,1410.5 934.0,1423.0 946.5,1438.0 939.0,1455.5 959.0,1458.0 964.0,1480.5 961.5,1503.0 979.0,1515.5 996.5,1508.0 996.5,1545.0 759.0,1545.0 749.0,1518.0 744.0,1493.0 734.0,1468.0 729.0,1438.0 724.0,1413.0 714.0,1388.0 709.0,1378.0 716.5,1358.0 719.0,1338.0 709.0,1318.0 706.5,1298.0 694.0,1285.5 684.0,1273.0" fill="#87CEFA"/>
<polygon points="741.5,1325.5 754.0,1315.5 771.5,1314.2 784.0,1323.0 781.5,1335.5 766.5,1343.0 749.0,1343.0 741.5,1338.0" fill="#AFEEEE"/>
<polygon points="746.5,1425.5 759.0,1423.0 784.0,1433.0 809.0,1438.0 834.0,1433.0 846.5,1413.0 859.0,1410.5 884.0,1418.0 896.5,1435.5 904.0,1455.5 909.0,1473.0 934.0,1478.0 951.5,1478.0 954.0,1493.0 946.5,1518.0 959.0,1545.0 871.5,1545.0 859.0,1528.0 846.5,1508.0 821.5,1488.0 784.0,1480.5 759.0,1473.0 754.0,1455.5 749.0,1440.5" fill="#AFEEEE"/>
<polygon points="771.5,1450.5 796.5,1445.5 821.5,1450.5 846.5,1458.0 864.0,1460.5 859.0,1473.0 834.0,1478.0 809.0,1478.0 784.0,1478.0 771.5,1468.0" fill="#FFFFFF"/>
<polygon points="856.5,1428.0 864.0,1425.5 879.0,1433.0 884.0,1440.5 876.5,1445.5 859.0,1440.5" fill="#FFFFFF"/>
<polygon points="556.5,1165.5 566.5,1165.5 584.0,1183.0 609.0,1220.5 634.0,1250.5 651.5,1278.0 674.0,1308.0 684.0,1333.0 694.0,1348.0 709.0,1353.0 724.0,1360.5 729.0,1370.5 709.0,1375.5 709.0,1393.0 719.0,1413.0 729.0,1438.0 739.0,1463.0 746.5,1483.0 771.5,1488.0 774.0,1503.0 759.0,1513.0 759.0,1545.0 746.5,1545.0 739.0,1518.0 729.0,1493.0 719.0,1468.0 709.0,1443.0 696.5,1418.0 684.0,1393.0 674.0,1368.0 664.0,1348.0 651.5,1330.5 634.0,1308.0 616.5,1288.0 599.0,1258.0 584.0,1233.0 566.5,1210.5 554.0,1193.0" fill="#0000CD"/>
<polygon points="556.5,1165.5 566.5,1168.0 571.5,1188.0 584.0,1205.5 599.0,1218.0 606.5,1225.5 616.5,1235.5 624.0,1250.5 634.0,1268.0 641.5,1283.0 651.5,1290.5 664.0,1303.0 674.0,1315.5 676.5,1330.5 674.0,1343.0 684.0,1355.5 696.5,1360.5 706.5,1365.5 706.5,1380.5 714.0,1395.5 716.5,1418.0 724.0,1443.0 731.5,1463.0 739.0,1480.5 744.0,1498.0 749.0,1518.0 754.0,1530.5 759.0,1545.0 259.0,1595.0 56.5,1115.5" fill="#7CFC00"/>
<polygon points="554.0,1168.0 564.0,1175.5 569.0,1193.0 584.0,1210.5 599.0,1223.0 606.5,1233.0 614.0,1243.0 621.5,1258.0 629.0,1273.0 639.0,1288.0 651.5,1298.0 661.5,1310.5 669.0,1323.0 671.5,1338.0 674.0,1348.0 684.0,1358.0 694.0,1365.5 699.0,1380.5 709.0,1398.0 711.5,1418.0 719.0,1443.0 726.5,1463.0 734.0,1483.0 739.0,1500.5 744.0,1518.0 749.0,1545.0 249.0,1595.0 54.0,1118.0" fill="#32CD32"/>
<polygon points="551.5,1170.5 559.0,1183.0 564.0,1198.0 579.0,1213.0 594.0,1225.5 604.0,1238.0 611.5,1250.5 619.0,1265.5 626.5,1280.5 636.5,1293.0 649.0,1303.0 656.5,1315.5 661.5,1330.5 666.5,1343.0 674.0,1353.0 684.0,1363.0 691.5,1378.0 699.0,1393.0 706.5,1418.0 711.5,1443.0 719.0,1463.0 726.5,1483.0 734.0,1503.0 739.0,1523.0 744.0,1545.0 244.0,1595.0 51.5,1120.5" fill="#228B22"/>
<polygon points="549.0,1175.5 554.0,1188.0 559.0,1203.0 571.5,1218.0 586.5,1230.5 599.0,1243.0 606.5,1255.5 614.0,1270.5 621.5,1288.0 629.0,1298.0 641.5,1305.5 649.0,1318.0 654.0,1333.0 659.0,1345.5 664.0,1355.5 674.0,1365.5 684.0,1380.5 691.5,1398.0 699.0,1418.0 704.0,1443.0 711.5,1463.0 719.0,1483.0 726.5,1503.0 731.5,1523.0 736.5,1545.0 236.5,1595.0 49.0,1125.5" fill="#006400"/>
<polygon points="544.0,1188.0 549.0,1200.5 554.0,1223.0 571.5,1230.5 589.0,1235.5 599.0,1248.0 604.0,1268.0 616.5,1288.0 621.5,1303.0 626.5,1318.0 634.0,1333.0 641.5,1343.0 649.0,1355.5 659.0,1365.5 669.0,1378.0 674.0,1393.0 684.0,1408.0 691.5,1423.0 694.0,1438.0 699.0,1450.5 704.0,1458.0 709.0,1473.0 719.0,1493.0 724.0,1513.0 731.5,1545.0 231.5,1595.0 44.0,1138.0" fill="#FFFF00"/>
<polygon points="541.5,1223.0 559.0,1223.0 571.5,1235.5 584.0,1240.5 594.0,1250.5 596.5,1268.0 606.5,1288.0 614.0,1308.0 616.5,1323.0 624.0,1338.0 634.0,1348.0 644.0,1358.0 651.5,1370.5 659.0,1383.0 669.0,1395.5 676.5,1408.0 684.0,1418.0 689.0,1433.0 694.0,1453.0 699.0,1468.0 709.0,1480.5 714.0,1498.0 719.0,1518.0 724.0,1545.0 224.0,1595.0 41.5,1173.0" fill="#FFA500"/>
<polygon points="654.0,1378.0 664.0,1383.0 674.0,1398.0 679.0,1408.0 669.0,1413.0 659.0,1398.0 651.5,1388.0" fill="#FF8C00"/>
<polygon points="706.5,1508.0 714.0,1508.0 719.0,1523.0 721.5,1545.0 706.5,1545.0" fill="#D2691E"/>
<polygon points="551.5,1228.0 566.5,1235.5 576.5,1253.0 581.5,1268.0 584.0,1280.5 576.5,1288.0 569.0,1290.5 559.0,1283.0 549.0,1268.0 544.0,1248.0" fill="#FF0000"/>
<polygon points="544.0,1243.0 554.0,1238.0 564.0,1248.0 571.5,1263.0 576.5,1278.0 569.0,1285.5 559.0,1278.0 549.0,1263.0" fill="#FFC0CB"/>
<polygon points="541.5,1193.0 546.5,1190.5 549.0,1198.0 544.0,1203.0" fill="#FFFF00"/>
</g>
<g clip-path="url(#ct12)">
<polygon points="1077.0,1118.0 1620.0,1118.0 1620.0,1545.0 1077.0,1545.0" fill="#87CEFA"/>
<polygon points="1077.0,1118.0 1128.2,1118.0 1152.0,1125.5 1184.5,1140.5 1187.0,1148.0 1177.0,1158.0 1127.0,1155.5 1077.0,1145.5" fill="#1E90FF"/>
<polygon points="1172.0,1118.0 1439.5,1118.0 1427.0,1133.0 1377.0,1138.0 1327.0,1140.5 1277.0,1138.0 1227.0,1133.0 1197.0,1125.5" fill="#AFEEEE"/>
<polygon points="1202.0,1118.0 1352.0,1118.0 1339.5,1130.5 1302.0,1133.0 1252.0,1128.0 1217.0,1123.0" fill="#FFFFFF"/>
<polygon points="1482.0,1118.0 1577.0,1118.0 1572.0,1133.0 1552.0,1143.0 1527.0,1145.5 1502.0,1140.5 1482.0,1130.5" fill="#AFEEEE"/>
<polygon points="1497.0,1123.0 1527.0,1120.5 1539.5,1133.0 1514.5,1138.0 1497.0,1133.0" fill="#FFFFFF"/>
<polygon points="1432.0,1163.0 1477.0,1158.0 1502.0,1178.0 1477.0,1185.5 1439.5,1180.5" fill="#AFEEEE"/>
<polygon points="1522.0,1193.0 1552.0,1188.0 1577.0,1190.5 1589.5,1200.5 1577.0,1213.0 1552.0,1218.0 1527.0,1213.0" fill="#AFEEEE"/>
<polygon points="1542.0,1195.5 1577.0,1190.5 1584.5,1200.5 1564.5,1208.0 1544.5,1205.5" fill="#FFFFFF"/>
<polygon points="1147.0,1173.0 1177.0,1171.8 1202.0,1180.5 1252.0,1198.0 1302.0,1213.0 1339.5,1215.5 1362.0,1223.0 1352.0,1230.5 1327.0,1230.5 1277.0,1225.5 1227.0,1218.0 1189.5,1213.0 1164.5,1200.5 1152.0,1188.0" fill="#AFEEEE"/>
<polygon points="1092.0,1195.5 1127.0,1198.0 1152.0,1213.0 1139.5,1220.5 1114.5,1223.0 1092.0,1218.0" fill="#AFEEEE"/>
<polygon points="1214.5,1163.0 1232.0,1160.5 1247.0,1165.5 1242.0,1170.5 1222.0,1170.5" fill="#1E90FF"/>
<polygon points="1259.5,1170.5 1302.0,1166.8 1327.0,1175.5 1352.0,1178.0 1374.5,1183.0 1372.0,1190.5 1339.5,1190.5 1302.0,1185.5 1272.0,1180.5" fill="#1E90FF"/>
<polygon points="1514.5,1173.0 1539.5,1168.0 1554.5,1173.0 1549.5,1183.0 1522.0,1184.2" fill="#1E90FF"/>
<polygon points="1077.0,1168.0 1102.0,1173.0 1092.0,1198.0 1094.5,1223.0 1114.5,1240.5 1139.5,1233.0 1152.0,1228.0 1177.0,1233.0 1202.0,1240.5 1227.0,1243.0 1252.0,1243.0 1277.0,1245.5 1302.0,1245.5 1327.0,1248.0 1352.0,1250.5 1377.0,1253.0 1402.0,1255.5 1427.0,1258.0 1452.0,1263.0 1477.0,1268.0 1502.0,1273.0 1527.0,1278.0 1552.0,1278.0 1564.5,1258.0 1577.0,1248.0 1602.0,1245.5 1620.0,1243.0 1620.0,1308.0 1077.0,1308.0" fill="#1E90FF"/>
<polygon points="1077.0,1270.5 1102.0,1280.5 1152.0,1288.0 1177.0,1288.0 1202.0,1285.5 1227.0,1268.0 1252.0,1263.0 1277.0,1265.5 1302.0,1268.0 1327.0,1273.0 1352.0,1270.5 1377.0,1268.0 1402.0,1270.5 1427.0,1273.0 1452.0,1278.0 1477.0,1280.5 1502.0,1288.0 1527.0,1298.0 1552.0,1300.5 1564.5,1298.0 1589.5,1293.0 1620.0,1290.5 1620.0,1338.0 1602.0,1335.5 1577.0,1328.0 1552.0,1323.0 1527.0,1315.5 1502.0,1303.0 1477.0,1298.0 1452.0,1293.0 1427.0,1290.5 1402.0,1288.0 1377.0,1288.0 1352.0,1290.5 1327.0,1293.0 1302.0,1290.5 1264.5,1293.0 1252.0,1303.0 1227.0,1308.0 1197.0,1298.0 1177.0,1303.0 1152.0,1313.0 1127.0,1313.0 1077.0,1308.0" fill="#0000CD"/>
<polygon points="1077.0,1308.0 1127.0,1313.0 1152.0,1313.0 1177.0,1303.0 1197.0,1298.0 1227.0,1308.0 1252.0,1303.0 1264.5,1293.0 1302.0,1290.5 1327.0,1293.0 1352.0,1290.5 1377.0,1288.0 1402.0,1288.0 1427.0,1290.5 1452.0,1293.0 1477.0,1298.0 1502.0,1303.0 1527.0,1315.5 1552.0,1323.0 1577.0,1328.0 1620.0,1338.0 1620.0,1545.0 1077.0,1545.0" fill="#7CFC00"/>
<polygon points="1077.0,1323.0 1114.5,1325.5 1152.0,1330.5 1189.5,1315.5 1227.0,1313.0 1252.0,1308.0 1277.0,1303.0 1302.0,1300.5 1327.0,1303.0 1352.0,1308.0 1377.0,1303.0 1402.0,1303.0 1427.0,1305.5 1452.0,1308.0 1477.0,1310.5 1502.0,1318.0 1527.0,1330.5 1552.0,1338.0 1564.5,1355.5 1557.0,1380.5 1552.0,1405.5 1547.0,1430.5 1527.0,1418.0 1502.0,1393.0 1477.0,1383.0 1452.0,1380.5 1427.0,1378.0 1402.0,1375.5 1377.0,1375.5 1352.0,1378.0 1327.0,1383.0 1302.0,1388.0 1277.0,1383.0 1252.0,1378.0 1227.0,1373.0 1202.0,1380.5 1177.0,1393.0 1152.0,1405.5 1127.0,1398.0 1102.0,1388.0 1077.0,1383.0" fill="#32CD32"/>
<polygon points="1077.0,1338.0 1114.5,1335.5 1152.0,1343.0 1157.0,1358.0 1127.0,1368.0 1102.0,1378.0 1077.0,1378.0" fill="#228B22"/>
<polygon points="1187.0,1335.5 1214.5,1333.0 1239.5,1343.0 1237.0,1355.5 1214.5,1358.0 1189.5,1353.0" fill="#228B22"/>
<polygon points="1252.0,1343.0 1289.5,1318.0 1314.5,1318.0 1339.5,1330.5 1344.5,1348.0 1339.5,1363.0 1314.5,1363.0 1289.5,1365.5 1277.0,1360.5 1252.0,1350.5" fill="#228B22"/>
<polygon points="1289.5,1338.0 1302.0,1335.5 1317.0,1335.5 1327.0,1340.5 1332.0,1348.0 1322.0,1353.0 1297.0,1348.0" fill="#006400"/>
<polygon points="1364.5,1323.0 1402.0,1323.0 1404.5,1343.0 1377.0,1355.5 1367.0,1343.0" fill="#228B22"/>
<polygon points="1427.0,1323.0 1452.0,1318.0 1477.0,1320.5 1502.0,1330.5 1522.0,1343.0 1532.0,1358.0 1537.0,1380.5 1539.5,1405.5 1544.5,1430.5 1534.5,1430.5 1522.0,1418.0 1509.5,1393.0 1502.0,1373.0 1477.0,1368.0 1452.0,1363.0 1432.0,1350.5 1427.0,1335.5" fill="#228B22"/>
<polygon points="1564.5,1343.0 1589.5,1343.0 1620.0,1340.5 1620.0,1393.0 1589.5,1383.0 1567.0,1368.0" fill="#7CFC00"/>
<polygon points="1232.0,1430.5 1252.0,1413.0 1277.0,1405.5 1302.0,1413.0 1327.0,1403.0 1352.0,1400.5 1377.0,1403.0 1402.0,1400.5 1427.0,1413.0 1452.0,1418.0 1477.0,1430.5 1502.0,1438.0 1514.5,1443.0 1517.0,1468.0 1522.0,1493.0 1527.0,1518.0 1532.0,1545.0 1339.5,1545.0 1327.0,1518.0 1302.0,1493.0 1277.0,1468.0 1252.0,1450.5 1239.5,1443.0" fill="#0000CD"/>
<polygon points="1302.0,1443.0 1327.0,1438.0 1352.0,1435.5 1377.0,1443.0 1402.0,1455.5 1427.0,1450.5 1450.0,1450.8 1451.5,1468.2 1466.2,1480.0 1488.2,1490.2 1503.0,1505.0 1512.0,1518.0 1514.5,1545.0 1339.5,1545.0 1332.0,1518.0 1317.0,1493.0 1302.0,1483.0 1297.0,1468.0" fill="#1E90FF"/>
<polygon points="1279.5,1443.0 1289.5,1438.0 1294.5,1448.0 1292.0,1458.0 1282.0,1455.5" fill="#7CFC00"/>
<polygon points="1582.0,1403.0 1602.0,1398.0 1620.0,1398.0 1620.0,1480.5 1602.0,1473.0 1589.5,1463.0 1582.0,1443.0 1582.0,1418.0" fill="#0000CD"/>
<polygon points="1602.0,1473.0 1620.0,1468.0 1620.0,1503.0 1607.0,1498.0" fill="#32CD32"/>
<polygon points="1077.0,1478.0 1102.0,1478.0 1127.0,1475.5 1149.5,1460.5 1149.5,1480.5 1127.0,1488.0 1102.0,1495.5 1077.0,1493.0" fill="#0000CD"/>
<polygon points="1077.0,1493.0 1102.0,1495.5 1109.5,1505.5 1097.0,1525.5 1077.0,1518.0" fill="#1E90FF"/>
<polygon points="1077.0,1513.0 1092.0,1515.5 1092.0,1528.0 1077.0,1528.0" fill="#87CEFA"/>
<polygon points="1077.0,1460.5 1092.0,1458.0 1097.0,1468.0 1092.0,1478.0 1077.0,1478.0" fill="#32CD32"/>
</g>
<g clip-path="url(#ct32)">
<polygon points="2163.0,1343.0 2263.0,1343.0 2263.0,1428.0 2200.5,1428.0 2163.0,1430.5" fill="#228B22"/>
<polygon points="2163.0,1430.5 2200.5,1428.0 2263.0,1428.0 2263.0,1478.0 2238.0,1475.5 2213.0,1468.0 2208.0,1450.5 2188.0,1448.0 2163.0,1450.5" fill="#32CD32"/>
<polygon points="2163.0,1450.5 2188.0,1448.0 2208.0,1453.0 2213.0,1468.0 2238.0,1478.0 2263.0,1478.0 2263.0,1500.5 2233.0,1503.0 2200.5,1510.5 2163.0,1530.5" fill="#7CFC00"/>
<polygon points="2163.0,1530.5 2200.5,1510.5 2233.0,1503.0 2263.0,1500.5 2263.0,1545.0 2163.0,1545.0" fill="#32CD32"/>
</g>
<g clip-path="url(#ct23)">
<polygon points="1620.0,1545.0 1707.5,1545.0 1695.0,1570.0 1682.5,1595.0 1670.0,1605.0 1662.5,1620.0 1662.5,1650.0 1650.0,1655.0 1620.0,1655.0" fill="#0000CD"/>
<polygon points="1770.0,1545.0 1827.5,1545.0 1832.5,1552.5 1815.0,1560.0 1795.0,1557.5 1775.0,1552.5" fill="#0000CD"/>
<polygon points="1860.0,1545.0 1945.0,1545.0 1940.0,1570.0 1925.0,1575.0 1917.5,1595.0 1902.5,1605.0 1882.5,1612.5 1867.5,1620.0 1857.5,1627.5 1847.5,1620.0 1850.0,1595.0 1857.5,1570.0" fill="#0000CD"/>
<polygon points="1717.5,1657.5 1725.0,1642.5 1745.0,1632.5 1765.0,1627.5 1775.0,1617.5 1795.0,1617.5 1810.0,1632.5 1825.0,1637.5 1837.5,1650.0 1852.5,1652.5 1862.5,1662.5 1857.5,1677.5 1840.0,1687.5 1825.0,1695.0 1795.0,1700.0 1770.0,1697.5 1745.0,1690.0 1725.0,1680.0" fill="#0000CD"/>
<polygon points="1766.2,1665.0 1775.0,1657.5 1785.0,1662.5 1785.0,1672.5 1775.0,1675.0 1767.5,1672.5" fill="#7CFC00"/>
<polygon points="1932.5,1582.5 1945.0,1570.0 1970.0,1577.5 1995.0,1570.0 2020.0,1570.0 2025.0,1582.5 2010.0,1595.0 1982.5,1607.5 1970.0,1615.0 1945.0,1612.5 1935.0,1602.5" fill="#0000CD"/>
<polygon points="2057.5,1545.0 2095.0,1545.0 2095.0,1555.0 2132.5,1565.0 2163.0,1570.0 2163.0,1605.0 2132.5,1605.0 2115.0,1590.0 2095.0,1582.5 2070.0,1570.0 2060.0,1557.5" fill="#0000CD"/>
<polygon points="2095.0,1545.0 2163.0,1545.0 2163.0,1582.5 2145.0,1577.5 2120.0,1567.5 2100.0,1555.0" fill="#7CFC00"/>
<polygon points="1620.0,1715.0 1645.0,1705.0 1670.0,1700.0 1695.0,1705.0 1720.0,1720.0 1745.0,1725.0 1770.0,1730.0 1795.0,1737.5 1820.0,1732.5 1845.0,1720.0 1870.0,1717.5 1895.0,1715.0 1920.0,1712.5 1945.0,1710.0 1970.0,1705.0 1995.0,1695.0 2020.0,1690.0 2045.0,1680.0 2070.0,1670.0 2095.0,1660.0 2120.0,1662.5 2145.0,1670.0 2163.0,1675.0 2163.0,1972.0 1620.0,1972.0" fill="#87CEFA"/>
<polygon points="1620.0,1725.0 1630.0,1720.0 1635.0,1735.0 1627.5,1747.5 1620.0,1750.0" fill="#1E90FF"/>
<polygon points="2002.5,1715.0 2020.0,1707.5 2070.0,1700.0 2082.5,1697.5 2095.0,1707.5 2107.5,1700.0 2120.0,1705.0 2145.0,1707.5 2163.0,1715.0 2163.0,1745.0 1995.0,1745.0" fill="#AFEEEE"/>
<polygon points="1775.0,1845.0 1780.0,1807.5 1795.0,1782.5 1815.0,1765.0 1845.0,1750.0 1870.0,1742.5 1895.0,1745.0 1920.0,1750.0 1935.0,1752.5 1935.0,1972.0 1770.0,1972.0" fill="#AFEEEE"/>
<polygon points="1780.0,1900.0 1795.0,1897.5 1800.0,1910.0 1790.0,1917.5 1780.0,1915.0" fill="#87CEFA"/>
<polygon points="1870.0,1937.5 1882.5,1930.0 1890.0,1935.0 1885.0,1945.0 1872.5,1950.0" fill="#87CEFA"/>
<polygon points="1815.0,1820.0 1820.0,1777.5 1845.0,1775.0 1870.0,1772.5 1895.0,1770.0 1920.0,1765.0 1930.0,1775.0 1927.5,1795.0 1930.0,1820.0 1925.0,1845.0 1920.0,1857.5 1895.0,1860.0 1882.5,1855.0 1870.0,1865.0 1857.5,1882.5 1852.5,1920.0 1840.0,1925.0 1827.5,1912.5 1820.0,1895.0 1825.0,1870.0 1825.0,1845.0 1815.0,1832.5" fill="#FFFFFF"/>
</g>
<g clip-path="url(#ct13)">
<polygon points="1337.0,1545.0 1377.0,1545.0 1407.0,1550.0 1414.5,1557.5 1402.0,1562.5 1382.0,1565.0 1377.0,1557.5 1364.5,1555.0 1347.0,1550.0" fill="#87CEFA"/>
<polygon points="1502.0,1602.5 1514.5,1600.0 1539.5,1610.0 1564.5,1620.0 1577.0,1632.5 1584.5,1645.0 1589.5,1657.5 1602.0,1670.0 1589.5,1677.5 1564.5,1680.0 1552.0,1670.0 1539.5,1660.0 1522.0,1650.0 1509.5,1637.5 1502.0,1620.0" fill="#87CEFA"/>
<polygon points="1602.0,1690.0 1620.0,1685.0 1620.0,1752.5 1602.0,1740.0 1597.0,1720.0 1602.0,1707.5" fill="#87CEFA"/>
<polygon points="1502.0,1545.0 1577.0,1545.0 1577.0,1560.0 1552.0,1565.0 1514.5,1567.5 1502.0,1557.5" fill="#0000CD"/>
<polygon points="1607.0,1607.5 1620.0,1605.0 1620.0,1650.0 1609.5,1645.0" fill="#0000CD"/>
</g>
<g clip-path="url(#ct03)">
<polygon points="534.0,1545.0 1077.0,1545.0 1077.0,1645.0 534.0,1645.0" fill="#87CEFA"/>
<polygon points="804.0,1555.0 819.0,1552.5 826.5,1560.0 819.0,1567.5 806.5,1565.0" fill="#AFEEEE"/>
<polygon points="799.0,1542.5 801.5,1560.0 806.5,1572.5 807.8,1582.5 806.5,1595.0 431.5,1670.0 424.0,1467.5" fill="#1E90FF"/>
<polygon points="794.0,1542.5 796.5,1560.0 801.5,1572.5 804.0,1582.5 801.5,1595.0 426.5,1670.0 419.0,1467.5" fill="#0000CD"/>
<polygon points="789.0,1542.5 791.5,1560.0 796.5,1572.5 799.0,1582.5 796.5,1595.0 421.5,1670.0 414.0,1467.5" fill="#7CFC00"/>
<polygon points="784.0,1542.5 786.5,1560.0 791.5,1572.5 794.0,1582.5 791.5,1595.0 416.5,1670.0 409.0,1467.5" fill="#32CD32"/>
<polygon points="779.0,1542.5 781.5,1560.0 786.5,1572.5 789.0,1582.5 789.0,1595.0 414.0,1670.0 404.0,1467.5" fill="#228B22"/>
<polygon points="774.0,1542.5 776.5,1560.0 781.5,1572.5 784.0,1582.5 785.2,1595.0 410.2,1670.0 399.0,1467.5" fill="#006400"/>
<polygon points="766.5,1542.5 770.2,1560.0 776.5,1572.5 781.5,1582.5 785.2,1595.0 789.0,1607.5 786.5,1620.0 411.5,1695.0 391.5,1467.5" fill="#FFFF00"/>
<polygon points="760.2,1542.5 764.0,1560.0 771.5,1572.5 776.5,1582.5 780.2,1595.0 782.8,1607.5 781.5,1620.0 406.5,1695.0 385.2,1467.5" fill="#FFA500"/>
<polygon points="709.0,1545.0 754.0,1545.0 759.0,1560.0 764.0,1575.0 759.0,1590.0 754.0,1595.0 744.0,1582.5 729.0,1560.0" fill="#D2691E"/>
<polygon points="759.0,1582.5 769.0,1582.5 779.0,1592.5 779.0,1602.5 771.5,1602.5 764.0,1595.0" fill="#FF0000"/>
<polygon points="736.5,1552.5 744.0,1555.0 746.5,1560.0 739.0,1560.0" fill="#FF0000"/>
<polygon points="769.0,1615.0 774.0,1616.2 780.2,1620.0 771.5,1622.5" fill="#FFFF00"/>
</g>
<g clip-path="url(#ct33)">
<polygon points="2163.0,1545.0 2238.0,1545.0 2225.5,1555.0 2200.5,1562.5 2175.5,1560.0 2163.0,1555.0" fill="#32CD32"/>
<polygon points="2163.0,1555.0 2175.5,1560.0 2200.5,1562.5 2225.5,1555.0 2238.0,1545.0 2278.0,1595.0 2238.0,1602.5 2213.0,1600.0 2200.5,1582.5 2163.0,1585.0" fill="#7CFC00"/>
<polygon points="2163.0,1585.0 2200.5,1580.0 2213.0,1595.0 2218.0,1610.0 2238.0,1627.5 2245.5,1650.0 2238.0,1657.5 2213.0,1655.0 2188.0,1652.5 2178.0,1645.0 2175.5,1620.0 2163.0,1607.5" fill="#0000CD"/>
<polygon points="2163.0,1607.5 2175.5,1620.0 2178.0,1645.0 2188.0,1652.5 2245.5,1652.5 2258.0,1655.0 2225.5,1685.0 2213.0,1692.5 2188.0,1695.0 2163.0,1692.5" fill="#1E90FF"/>
<polygon points="2163.0,1692.5 2188.0,1695.0 2213.0,1692.5 2225.5,1687.5 2213.0,1720.0 2175.5,1750.0 2163.0,1750.0" fill="#87CEFA"/>
</g>
<g clip-path="url(#ct10)">
<polygon points="1510.8,259.0 1627.0,259.0 1627.0,315.2 1510.8,315.2" fill="#FFFFFF"/>
</g>
<clipPath id="fx0"><rect x="1500" y="1380" width="220" height="200"/></clipPath>
<g clip-path="url(#fx0)">
<polygon points="1500.0,1380.0 1720.0,1380.0 1720.0,1580.0 1500.0,1580.0" fill="#7CFC00"/>
<polygon points="1500.0,1380.0 1550.4,1380.0 1558.5,1403.4 1564.4,1426.8 1562.1,1453.8 1552.7,1452.6 1544.5,1445.6 1535.1,1429.2 1523.4,1422.2 1500.0,1418.6" fill="#32CD32"/>
<polygon points="1517.6,1380.0 1537.5,1380.0 1543.3,1397.6 1542.2,1415.1 1535.1,1409.3 1523.4,1397.6" fill="#228B22"/>
<polygon points="1646.4,1380.0 1720.0,1380.0 1720.0,1418.6 1699.1,1411.6 1675.6,1412.8 1661.6,1409.3 1652.2,1397.6" fill="#32CD32"/>
<polygon points="1500.0,1454.9 1514.1,1456.1 1519.9,1462.0 1523.4,1473.7 1529.3,1491.2 1531.6,1514.7 1537.5,1527.5 1549.2,1532.2 1563.2,1529.9 1564.4,1514.7 1560.9,1503.0 1549.2,1497.1 1541.0,1493.6 1544.5,1487.7 1553.9,1484.2 1565.6,1487.7 1574.9,1495.9 1577.3,1504.1 1582.0,1518.2 1591.3,1527.5 1599.5,1532.2 1611.2,1536.9 1620.6,1535.7 1628.8,1526.4 1640.5,1520.5 1648.7,1517.0 1648.7,1503.0 1646.4,1491.2 1640.5,1479.5 1634.7,1469.0 1632.3,1462.0 1640.5,1457.3 1646.4,1454.9 1649.9,1462.0 1654.6,1485.4 1661.6,1497.1 1669.8,1506.5 1681.5,1513.5 1693.2,1518.2 1704.9,1529.9 1711.9,1543.9 1714.3,1580.0 1500.0,1580.0" fill="#0000CD"/>
<polygon points="1582.0,1406.9 1593.7,1403.4 1605.4,1399.9 1617.1,1396.4 1628.8,1401.1 1640.5,1409.3 1652.2,1415.1 1658.1,1418.6 1661.6,1424.5 1669.8,1426.8 1687.4,1429.2 1701.4,1435.0 1708.4,1445.6 1720.0,1452.6 1720.0,1503.0 1704.9,1491.2 1693.2,1473.7 1675.6,1457.3 1663.9,1450.3 1652.2,1436.2 1644.0,1431.5 1648.7,1445.6 1646.4,1452.6 1640.5,1457.3 1628.8,1460.8 1617.1,1459.6 1605.4,1454.9 1593.7,1445.6 1585.5,1432.7 1582.0,1418.6" fill="#0000CD"/>
<polygon points="1644.0,1431.5 1658.1,1440.9 1666.3,1452.6 1681.5,1462.0 1699.1,1464.3 1708.4,1473.7 1710.8,1494.8 1720.0,1501.8 1720.0,1514.7 1699.1,1510.0 1681.5,1506.5 1668.6,1499.4 1659.3,1490.1 1653.4,1473.7 1649.9,1456.1" fill="#1E90FF"/>
<polygon points="1500.0,1567.4 1517.6,1563.8 1535.1,1559.2 1552.7,1554.5 1570.3,1553.3 1582.0,1556.8 1593.7,1562.7 1605.4,1569.7 1614.8,1580.0 1500.0,1580.0" fill="#1E90FF"/>
<polygon points="1500.0,1504.1 1507.0,1508.8 1508.2,1520.5 1504.7,1532.2 1500.0,1536.9" fill="#1E90FF"/>
<polygon points="1710.8,1520.5 1720.0,1514.7 1720.0,1580.0 1699.1,1580.0 1708.4,1567.4 1711.9,1558.0 1711.9,1543.9" fill="#1E90FF"/>
<polygon points="1612.4,1543.9 1619.4,1542.8 1625.3,1549.8 1626.5,1561.5 1621.8,1566.2 1614.8,1562.7 1611.2,1553.3" fill="#7CFC00"/>
<polygon points="1605.4,1483.0 1611.2,1473.7 1619.4,1472.5 1626.5,1477.2 1633.5,1491.2 1628.8,1499.4 1617.1,1504.1 1607.7,1501.8" fill="#32CD32"/>
</g>
<clipPath id="fx1"><rect x="1720" y="1380" width="200" height="200"/></clipPath>
<g clip-path="url(#fx1)">
<polygon points="1700.0,1380.0 1920.0,1380.0 1920.0,1580.0 1700.0,1580.0" fill="#7CFC00"/>
<polygon points="1700.0,1380.0 1920.0,1380.0 1920.0,1440.9 1904.9,1445.6 1893.2,1452.6 1881.5,1450.3 1869.8,1438.5 1858.1,1431.5 1846.4,1429.2 1834.7,1431.5 1828.8,1438.5 1817.1,1433.9 1805.4,1426.8 1796.0,1418.6 1782.0,1416.3 1758.5,1414.0 1735.1,1411.6 1717.6,1409.3 1700.0,1408.1" fill="#32CD32"/>
<polygon points="1808.9,1403.4 1814.8,1392.9 1823.0,1390.5 1830.0,1395.2 1831.1,1409.3 1828.8,1424.5 1823.0,1423.3 1814.8,1418.6 1810.1,1412.8" fill="#228B22"/>
<polygon points="1852.2,1397.6 1875.6,1403.4 1893.2,1399.9 1910.8,1398.7 1920.0,1401.1 1920.0,1430.4 1904.9,1418.6 1887.4,1415.1 1869.8,1412.8 1858.1,1410.4" fill="#228B22"/>
<polygon points="1700.0,1433.9 1707.0,1440.9 1717.6,1452.6 1729.3,1459.6 1746.8,1454.9 1770.3,1449.1 1793.7,1445.6 1805.4,1450.3 1817.1,1459.6 1826.5,1469.0 1834.7,1479.5 1846.4,1488.9 1863.9,1490.1 1881.5,1487.7 1899.1,1490.1 1920.0,1490.1 1920.0,1580.0 1700.0,1580.0" fill="#0000CD"/>
<polygon points="1700.0,1497.1 1711.7,1500.6 1723.4,1501.8 1741.0,1500.6 1752.7,1506.5 1758.5,1520.5 1764.4,1538.1 1776.1,1549.8 1787.8,1558.0 1799.5,1562.7 1805.4,1567.4 1811.2,1580.0 1700.0,1580.0" fill="#1E90FF"/>
<polygon points="1828.8,1548.6 1840.5,1532.2 1849.9,1528.7 1856.9,1535.7 1861.6,1549.8 1861.6,1580.0 1817.1,1580.0 1817.1,1561.5 1828.8,1555.6" fill="#1E90FF"/>
<polygon points="1700.0,1483.0 1707.0,1485.4 1709.4,1497.1 1700.0,1498.3" fill="#1E90FF"/>
</g>
<clipPath id="fx2"><rect x="534" y="1160" width="200" height="170"/></clipPath>
<g clip-path="url(#fx2)">
<polygon points="534.0,1160.0 734.0,1160.0 734.0,1330.0 534.0,1330.0" fill="#1E90FF"/>
<polygon points="584.8,1175.9 589.7,1170.0 603.7,1164.0 619.6,1160.0 608.7,1166.0 605.7,1172.9 609.7,1180.9 623.6,1184.9 635.5,1189.9 640.5,1199.8 637.5,1207.8 623.6,1210.8 611.7,1209.8 601.7,1203.8 593.7,1195.8 586.8,1185.9" fill="#87CEFA"/>
<polygon points="648.5,1227.7 653.5,1223.7 671.4,1228.7 673.4,1235.7 670.4,1239.6 653.5,1239.6 649.5,1233.7" fill="#87CEFA"/>
<polygon points="658.4,1280.5 663.4,1278.5 679.3,1278.5 681.3,1282.4 677.4,1286.4 668.4,1287.4 660.4,1284.4" fill="#87CEFA"/>
<polygon points="684.3,1259.6 693.3,1255.6 713.2,1253.6 734.0,1252.6 734.0,1330.0 713.2,1330.0 709.2,1299.4 705.2,1289.4 693.3,1284.4 684.3,1279.5 683.3,1269.5" fill="#87CEFA"/>
<polygon points="673.4,1160.0 734.0,1160.0 734.0,1191.9 723.1,1189.9 703.2,1184.9 688.3,1177.9 678.4,1166.0" fill="#0000CD"/>
<polygon points="558.9,1166.0 565.9,1168.0 566.9,1174.9 570.8,1189.9 573.8,1197.8 583.8,1199.8 589.7,1205.8 603.7,1215.7 608.7,1221.7 621.6,1225.7 626.6,1231.7 631.6,1239.6 637.5,1247.6 639.5,1254.6 641.5,1264.5 641.5,1274.5 648.5,1284.4 658.4,1294.4 673.4,1304.4 681.3,1309.3 683.3,1319.3 685.3,1330.0 685.3,1359.1 454.4,1389.0 454.4,1166.0" fill="#0000CD"/>
<polygon points="553.9,1166.0 557.9,1168.0 561.9,1177.9 565.9,1187.9 569.8,1196.8 575.8,1201.8 583.8,1206.8 593.7,1213.8 603.7,1221.7 609.7,1225.7 615.6,1229.7 621.6,1237.7 627.6,1245.6 631.6,1253.6 633.6,1262.5 634.5,1269.5 637.5,1279.5 641.5,1287.4 648.5,1291.4 658.4,1297.4 668.4,1304.4 675.4,1311.3 677.4,1319.3 678.4,1330.0 678.4,1359.1 454.4,1389.0 454.4,1166.0" fill="#7CFC00"/>
<polygon points="550.9,1166.0 554.9,1172.9 558.9,1181.9 562.9,1189.9 566.9,1196.8 572.8,1201.8 581.8,1207.8 591.7,1215.7 601.7,1223.7 605.7,1227.7 611.7,1231.7 617.6,1239.6 623.6,1247.6 628.6,1255.6 630.6,1263.5 632.6,1272.5 634.5,1279.5 638.5,1286.4 645.5,1292.4 658.4,1301.4 668.4,1308.3 672.4,1315.3 673.4,1321.3 674.4,1330.0 674.4,1359.1 454.4,1389.0 454.4,1166.0" fill="#32CD32"/>
<polygon points="548.9,1167.0 552.9,1175.9 555.9,1184.9 559.9,1191.9 563.9,1199.8 570.8,1205.8 579.8,1211.8 589.7,1219.7 598.7,1227.7 603.7,1231.7 608.7,1235.7 613.6,1243.6 619.6,1251.6 624.6,1259.6 627.6,1267.5 629.6,1275.5 632.6,1282.4 635.5,1289.4 641.5,1295.4 653.5,1305.3 661.4,1313.3 666.4,1321.3 668.4,1330.0 668.4,1359.1 454.4,1389.0 454.4,1167.0" fill="#228B22"/>
<polygon points="545.9,1169.0 549.9,1177.9 552.9,1185.9 554.9,1193.8 556.9,1201.8 560.9,1207.8 566.9,1213.8 575.8,1219.7 585.8,1225.7 591.7,1229.7 597.7,1231.7 603.7,1233.7 607.7,1239.6 611.7,1249.6 616.6,1255.6 621.6,1263.5 623.6,1271.5 625.6,1279.5 629.6,1287.4 633.6,1293.4 638.5,1298.4 648.5,1307.3 655.5,1315.3 660.4,1323.3 662.4,1330.0 662.4,1359.1 454.4,1389.0 454.4,1169.0" fill="#006400"/>
<polygon points="544.0,1191.9 551.9,1190.9 552.9,1199.8 547.9,1202.8 544.0,1199.8" fill="#FFFF00"/>
<polygon points="542.0,1223.7 551.9,1223.7 563.9,1221.7 569.8,1227.7 573.8,1235.7 578.8,1233.7 588.8,1230.7 597.7,1235.7 601.7,1239.6 605.7,1249.6 607.7,1259.6 611.7,1269.5 619.6,1274.5 623.6,1284.4 625.6,1294.4 627.6,1304.4 629.6,1315.3 630.6,1330.0 630.6,1359.1 454.4,1389.0 454.4,1223.7" fill="#FFFF00"/>
<polygon points="542.0,1225.7 551.9,1225.7 559.9,1227.7 566.9,1233.7 573.8,1241.6 581.8,1239.6 589.7,1237.7 595.7,1239.6 599.7,1247.6 603.7,1259.6 605.7,1269.5 613.6,1273.5 618.6,1281.5 621.6,1294.4 623.6,1304.4 625.6,1315.3 627.6,1330.0 627.6,1359.1 454.4,1389.0 454.4,1225.7" fill="#FFA500"/>
<polygon points="580.8,1262.5 589.7,1263.5 595.7,1272.5 598.7,1284.4 593.7,1285.4 585.8,1279.5 581.8,1269.5" fill="#FF8C00"/>
<polygon points="552.9,1229.7 558.9,1231.7 566.9,1245.6 573.8,1257.6 581.8,1265.5 583.8,1277.5 575.8,1279.5 569.8,1289.4 566.9,1289.4 563.9,1279.5 559.9,1264.5 553.9,1249.6 550.9,1237.7" fill="#FF0000"/>
<polygon points="545.0,1246.6 551.9,1242.6 561.9,1251.6 568.8,1259.6 575.8,1265.5 577.8,1274.5 575.8,1279.5 570.8,1284.4 566.9,1287.4 562.9,1279.5 553.9,1264.5 545.9,1254.6" fill="#DB7093"/>
<polygon points="545.0,1246.6 551.9,1242.6 560.9,1249.6 565.9,1257.6 564.9,1267.5 558.9,1264.5 551.9,1257.6 545.9,1253.6" fill="#FFC0CB"/>
</g>
<clipPath id="fx3"><rect x="620" y="1326" width="220" height="194"/></clipPath>
<g clip-path="url(#fx3)">
<polygon points="620.0,1320.0 840.0,1320.0 840.0,1520.0 620.0,1520.0" fill="#1E90FF"/>
<polygon points="713.7,1320.0 795.6,1320.0 801.5,1337.6 813.2,1364.5 830.8,1376.2 840.0,1378.5 840.0,1520.0 795.6,1520.0 783.9,1507.4 772.2,1483.9 754.7,1472.2 748.8,1454.7 743.0,1443.0 731.2,1431.2 725.4,1413.7 723.0,1396.1 713.7,1387.9 711.3,1380.9 719.5,1378.5 746.5,1375.0 748.8,1366.8 737.1,1361.0 725.4,1349.3 717.2,1337.6" fill="#87CEFA"/>
<polygon points="741.8,1329.4 748.8,1320.0 783.9,1320.0 781.6,1331.7 772.2,1343.4 760.5,1349.3 748.8,1346.9 743.0,1337.6" fill="#AFEEEE"/>
<polygon points="745.3,1427.7 760.5,1424.2 772.2,1431.2 783.9,1441.8 807.4,1444.1 830.8,1441.8 840.0,1443.0 840.0,1483.9 819.1,1481.6 795.6,1481.6 772.2,1474.6 760.5,1460.5 751.1,1443.0" fill="#AFEEEE"/>
<polygon points="769.9,1455.8 778.1,1447.6 795.6,1446.5 813.2,1451.1 830.8,1458.2 840.0,1460.5 840.0,1478.1 819.1,1479.3 795.6,1479.3 778.1,1475.7 771.1,1467.5" fill="#FFFFFF"/>
<polygon points="833.1,1337.6 840.0,1336.4 840.0,1355.1 834.3,1352.8" fill="#0000CD"/>
<polygon points="748.8,1483.9 760.5,1482.8 771.1,1489.8 773.4,1501.5 766.4,1509.7 754.7,1513.2 748.8,1507.4" fill="#0000CD"/>
<polygon points="683.2,1320.0 682.1,1331.7 685.6,1343.4 702.0,1343.4 725.4,1364.5 721.9,1372.7 709.0,1378.5 713.7,1390.3 725.4,1402.0 732.4,1425.4 744.1,1448.8 746.5,1472.2 748.8,1483.9 750.0,1507.4 754.7,1520.0 754.7,1554.2 526.3,1589.3 526.3,1320.0" fill="#0000CD"/>
<polygon points="678.5,1320.0 677.4,1331.7 683.2,1357.5 706.7,1361.0 706.7,1372.7 709.0,1378.5 720.7,1402.0 727.7,1425.4 737.1,1448.8 741.8,1472.2 746.5,1495.6 748.8,1520.0 748.8,1554.2 526.3,1589.3 526.3,1320.0" fill="#7CFC00"/>
<polygon points="672.7,1320.0 671.5,1331.7 682.1,1355.1 704.3,1378.5 716.0,1402.0 723.0,1425.4 731.2,1448.8 738.3,1472.2 744.1,1495.6 745.3,1520.0 745.3,1554.2 526.3,1589.3 526.3,1320.0" fill="#32CD32"/>
<polygon points="664.5,1320.0 664.5,1331.7 676.2,1355.1 699.6,1378.5 711.3,1402.0 717.2,1425.4 723.0,1448.8 734.8,1472.2 740.6,1495.6 741.8,1520.0 741.8,1554.2 526.3,1589.3 526.3,1320.0" fill="#228B22"/>
<polygon points="658.6,1320.0 658.6,1331.7 669.2,1355.1 692.6,1378.5 704.3,1402.0 707.8,1425.4 712.5,1448.8 728.9,1472.2 735.9,1495.6 737.1,1520.0 737.1,1554.2 526.3,1589.3 526.3,1320.0" fill="#006400"/>
<polygon points="648.1,1320.0 648.1,1331.7 658.6,1355.1 682.1,1378.5 692.6,1402.0 696.1,1423.0 702.0,1437.1 706.7,1460.5 723.0,1472.2 730.1,1495.6 734.8,1520.0 734.8,1554.2 526.3,1589.3 526.3,1320.0" fill="#FFFF00"/>
<polygon points="628.2,1320.0 628.2,1331.7 651.6,1355.1 676.2,1378.5 683.2,1402.0 692.6,1420.7 699.6,1437.1 706.7,1460.5 719.5,1472.2 723.0,1495.6 725.4,1520.0 725.4,1554.2 526.3,1589.3 526.3,1320.0" fill="#FFA500"/>
<polygon points="706.7,1478.1 712.5,1489.8 716.0,1501.5 713.7,1520.0 713.7,1554.2 526.3,1589.3 526.3,1478.1" fill="#D2691E"/>
</g>
</g>
<polygon points="1056.5,826.0 1066.5,821.0 1077.0,822.2 1077.0,841.0 1066.5,843.5 1059.0,836.0" fill="#D3D3D3" fill-opacity="0.88" stroke="#111" stroke-width="2.6" stroke-linejoin="round"/>
<polygon points="1487.0,344.0 1497.0,340.2 1499.5,346.5 1502.0,354.0 1502.0,364.0 1507.0,369.0 1514.5,374.0 1517.0,384.0 1522.0,391.5 1522.0,401.5 1517.0,409.0 1519.5,416.5 1512.0,409.0 1508.2,419.0 1507.0,409.0 1502.0,404.0 1497.0,399.0 1489.5,394.0 1482.0,389.0 1469.5,390.2 1472.0,374.0 1479.5,381.5 1487.0,374.0 1489.5,364.0 1484.5,359.0 1482.0,351.5" fill="#D3D3D3" fill-opacity="0.88" stroke="#111" stroke-width="2.6" stroke-linejoin="round"/>
<polygon points="1077.0,753.5 1089.5,752.2 1097.0,766.0 1104.5,786.0 1114.5,788.5 1127.0,792.2 1127.0,808.5 1114.5,808.5 1107.0,798.5 1099.5,791.0 1092.0,776.0 1084.5,766.0 1077.0,763.5" fill="#D3D3D3" fill-opacity="0.88" stroke="#111" stroke-width="2.6" stroke-linejoin="round"/>
<polygon points="1102.0,821.0 1114.5,816.0 1122.0,826.0 1119.5,841.0 1109.5,853.5 1099.5,861.0 1092.0,871.0 1089.5,883.5 1087.0,866.0 1092.0,851.0 1099.5,836.0" fill="#D3D3D3" fill-opacity="0.88" stroke="#111" stroke-width="2.6" stroke-linejoin="round"/>
<polygon points="1304.5,943.5 1302.0,921.0 1314.5,913.5 1327.0,911.0 1339.5,909.8 1347.0,913.5 1352.0,918.5 1362.0,921.0 1359.5,926.0 1349.5,928.5 1339.5,933.5 1332.0,941.0 1324.5,946.0 1314.5,951.0" fill="#D3D3D3" fill-opacity="0.88" stroke="#111" stroke-width="2.6" stroke-linejoin="round"/>
<polygon points="1507.0,1021.0 1522.0,1018.5 1524.5,1026.0 1512.0,1033.5 1507.0,1028.5" fill="#D3D3D3" fill-opacity="0.88" stroke="#111" stroke-width="2.6" stroke-linejoin="round"/>
<polygon points="1487.0,1036.0 1497.0,1033.5 1502.0,1046.0 1502.0,1056.0 1489.5,1051.0" fill="#D3D3D3" fill-opacity="0.88" stroke="#111" stroke-width="2.6" stroke-linejoin="round"/>
<polygon points="1574.5,1018.5 1589.5,1016.0 1597.0,1023.5 1592.0,1033.5 1577.0,1036.0 1572.0,1028.5" fill="#D3D3D3" fill-opacity="0.88" stroke="#111" stroke-width="2.6" stroke-linejoin="round"/>
<polygon points="1597.0,976.0 1614.5,973.5 1620.0,983.5 1607.0,988.5 1597.0,983.5" fill="#D3D3D3" fill-opacity="0.88" stroke="#111" stroke-width="2.6" stroke-linejoin="round"/>
<polygon points="1564.5,1041.0 1574.5,1038.5 1577.0,1046.0 1567.0,1048.5" fill="#D3D3D3" fill-opacity="0.88" stroke="#111" stroke-width="2.6" stroke-linejoin="round"/>
<polygon points="1577.0,1101.0 1592.0,1091.0 1607.0,1081.0 1620.0,1076.0 1620.0,1118.0 1587.0,1118.0" fill="#D3D3D3" fill-opacity="0.88" stroke="#111" stroke-width="2.6" stroke-linejoin="round"/>
<polygon points="1922.5,786.0 1932.5,779.8 1945.0,783.5 1960.0,786.0 1975.0,793.5 1965.0,798.5 1952.5,801.0 1942.5,796.0 1932.5,791.0" fill="#D3D3D3" fill-opacity="0.88" stroke="#111" stroke-width="2.6" stroke-linejoin="round"/>
<polygon points="1857.5,823.5 1870.0,816.0 1882.5,808.5 1897.5,811.0 1895.0,818.5 1890.0,828.5 1875.0,828.5 1865.0,826.0" fill="#D3D3D3" fill-opacity="0.88" stroke="#111" stroke-width="2.6" stroke-linejoin="round"/>
<polygon points="1740.0,956.0 1750.0,946.0 1765.0,941.0 1775.0,931.0 1790.0,923.5 1810.0,921.0 1805.0,931.0 1795.0,941.0 1782.5,951.0 1770.0,961.0 1760.0,963.5 1745.0,963.5" fill="#D3D3D3" fill-opacity="0.88" stroke="#111" stroke-width="2.6" stroke-linejoin="round"/>
<polygon points="1775.0,981.0 1790.0,971.0 1805.0,961.0 1820.0,956.0 1832.5,948.5 1845.0,948.5 1840.0,961.0 1835.0,971.0 1820.0,978.5 1795.0,981.0" fill="#D3D3D3" fill-opacity="0.88" stroke="#111" stroke-width="2.6" stroke-linejoin="round"/>
<polygon points="1760.0,986.0 1775.0,991.0 1785.0,1003.5 1790.0,1021.0 1787.5,1041.0 1780.0,1058.5 1775.0,1071.0 1770.0,1081.0 1760.0,1078.5 1752.5,1066.0 1747.5,1051.0 1750.0,1036.0 1737.5,1038.5 1727.5,1028.5 1720.0,1021.0 1732.5,1016.0 1747.5,1013.5 1752.5,1001.0" fill="#D3D3D3" fill-opacity="0.88" stroke="#111" stroke-width="2.6" stroke-linejoin="round"/>
<polygon points="1957.5,1061.0 1965.0,1051.0 1980.0,1051.0 1987.5,1058.5 2017.5,1061.0 2017.5,1073.5 1995.0,1078.5 1987.5,1081.0 1967.5,1076.0 1960.0,1068.5" fill="#D3D3D3" fill-opacity="0.88" stroke="#111" stroke-width="2.6" stroke-linejoin="round"/>
<polygon points="1640.0,966.0 1650.0,956.0 1658.8,953.5 1655.0,966.0 1652.5,978.5 1645.0,981.0 1642.5,971.0" fill="#D3D3D3" fill-opacity="0.88" stroke="#111" stroke-width="2.6" stroke-linejoin="round"/>
<polygon points="1620.0,1026.0 1635.0,1023.5 1647.5,1031.0 1640.0,1046.0 1627.5,1051.0 1620.0,1046.0" fill="#D3D3D3" fill-opacity="0.88" stroke="#111" stroke-width="2.6" stroke-linejoin="round"/>
<polygon points="1620.0,1061.0 1630.0,1058.5 1645.0,1066.0 1660.0,1071.0 1665.0,1081.0 1650.0,1086.0 1635.0,1081.0 1620.0,1081.0" fill="#D3D3D3" fill-opacity="0.88" stroke="#111" stroke-width="2.6" stroke-linejoin="round"/>
<polygon points="1640.0,1325.5 1647.5,1320.5 1657.5,1335.5 1660.0,1350.5 1650.0,1355.5 1642.5,1343.0" fill="#D3D3D3" fill-opacity="0.88" stroke="#111" stroke-width="2.6" stroke-linejoin="round"/>
<polygon points="1670.0,1283.0 1685.0,1293.0 1692.5,1308.0 1702.5,1293.0 1712.5,1298.0 1717.5,1318.0 1720.0,1335.5 1725.0,1350.5 1720.0,1365.5 1715.0,1375.5 1727.5,1388.0 1745.0,1398.0 1760.0,1408.0 1767.5,1428.0 1762.5,1443.0 1745.0,1453.0 1732.5,1448.0 1727.5,1428.0 1720.0,1408.0 1710.0,1388.0 1705.0,1368.0 1695.0,1350.5 1685.0,1338.0 1675.0,1318.0 1670.0,1303.0" fill="#D3D3D3" fill-opacity="0.88" stroke="#111" stroke-width="2.6" stroke-linejoin="round"/>
<polygon points="1627.5,1168.0 1640.0,1175.5 1645.0,1193.0 1652.5,1230.5 1657.5,1268.0 1662.5,1293.0 1650.0,1305.5 1640.0,1293.0 1635.0,1268.0 1630.0,1230.5 1625.0,1193.0 1620.0,1180.5 1620.0,1168.0" fill="#D3D3D3" fill-opacity="0.88" stroke="#111" stroke-width="2.6" stroke-linejoin="round"/>
<polygon points="1727.5,1308.0 1730.0,1293.0 1740.0,1280.5 1750.0,1285.5 1745.0,1298.0 1732.5,1313.0" fill="#D3D3D3" fill-opacity="0.88" stroke="#111" stroke-width="2.6" stroke-linejoin="round"/>
<polygon points="1352.0,1278.0 1359.5,1260.5 1367.0,1263.0 1369.5,1278.0 1364.5,1283.0 1354.5,1283.0" fill="#D3D3D3" fill-opacity="0.88" stroke="#111" stroke-width="2.6" stroke-linejoin="round"/>
<polygon points="1374.5,1270.5 1382.0,1266.8 1389.5,1271.8 1384.5,1275.5 1377.0,1275.5" fill="#D3D3D3" fill-opacity="0.88" stroke="#111" stroke-width="2.6" stroke-linejoin="round"/>
<polygon points="1569.5,1143.0 1589.5,1138.0 1602.0,1140.5 1620.0,1143.0 1620.0,1188.0 1612.0,1183.0 1592.0,1178.0 1584.5,1168.0 1577.0,1155.5" fill="#D3D3D3" fill-opacity="0.88" stroke="#111" stroke-width="2.6" stroke-linejoin="round"/>
<polygon points="1587.0,1193.0 1594.5,1198.0 1599.5,1213.0 1592.0,1223.0 1587.0,1213.0" fill="#D3D3D3" fill-opacity="0.88" stroke="#111" stroke-width="2.6" stroke-linejoin="round"/>
<polygon points="1542.0,1155.5 1552.0,1153.0 1562.0,1160.5 1557.0,1168.0 1544.5,1165.5" fill="#D3D3D3" fill-opacity="0.88" stroke="#111" stroke-width="2.6" stroke-linejoin="round"/>
<polygon points="1940.0,1685.0 1952.5,1677.5 1965.0,1675.0 1970.0,1685.0 1970.0,1697.5 1952.5,1700.0 1940.0,1697.5" fill="#D3D3D3" fill-opacity="0.88" stroke="#111" stroke-width="2.6" stroke-linejoin="round"/>
<polygon points="1952.5,1675.0 1970.0,1667.5 1985.0,1665.0 1985.0,1672.5 1975.0,1677.5 1957.5,1680.0" fill="#D3D3D3" fill-opacity="0.88" stroke="#111" stroke-width="2.6" stroke-linejoin="round"/>
<polygon points="1509.3,610.9 1513.9,615.6 1511.6,627.3 1523.3,608.5 1521.0,627.3 1518.6,643.7 1530.3,632.0 1542.0,632.0 1539.7,641.3 1528.0,660.1 1518.6,676.5 1513.9,690.5 1521.0,699.9 1513.9,704.6 1511.6,713.9 1513.9,728.0 1509.3,735.0 1499.9,742.0 1488.2,753.7 1492.9,756.1 1481.1,770.1 1471.8,772.5 1462.4,781.9 1453.0,786.5 1446.0,798.2 1439.0,798.2 1434.3,793.6 1439.0,784.2 1448.4,779.5 1453.0,774.8 1460.1,765.5 1467.1,756.1 1474.1,749.1 1476.5,737.4 1476.5,728.0 1469.4,718.6 1464.8,711.6 1464.8,702.2 1457.7,697.5 1450.7,690.5 1455.4,681.1 1453.0,676.5 1457.7,667.1 1464.8,657.7 1471.8,655.4 1478.8,643.7 1490.5,636.7 1499.9,632.0 1504.6,620.3" fill="#D3D3D3" fill-opacity="0.88" stroke="#111" stroke-width="2.6" stroke-linejoin="round"/>
<polygon points="1441.3,744.4 1446.0,744.4 1443.7,760.8 1441.3,774.8 1436.7,784.2 1430.8,795.9 1429.6,807.6 1427.3,784.2 1434.3,777.2 1439.0,760.8" fill="#D3D3D3" fill-opacity="0.88" stroke="#111" stroke-width="2.6" stroke-linejoin="round"/>
<polygon points="1724.7,664.8 1734.1,664.8 1738.8,674.1 1748.1,660.1 1757.5,660.1 1748.1,667.1 1745.8,676.5 1752.8,685.8 1764.5,690.5 1755.2,695.2 1752.8,711.6 1745.8,718.6 1734.1,723.3 1724.7,728.0 1715.3,737.4 1713.0,746.7 1701.3,749.1 1694.3,758.4 1687.2,763.1 1673.2,760.8 1666.2,765.5 1654.4,756.1 1663.8,756.1 1668.5,751.4 1675.5,737.4 1682.6,730.3 1691.9,723.3 1698.9,721.0 1703.6,728.0 1710.7,718.6 1717.7,713.9 1722.4,704.6 1724.7,695.2 1720.0,688.2 1729.4,681.1 1727.0,671.8" fill="#D3D3D3" fill-opacity="0.88" stroke="#111" stroke-width="2.6" stroke-linejoin="round"/>
<polygon points="1708.3,699.9 1724.7,699.9 1722.4,704.6 1710.7,702.2" fill="#D3D3D3" fill-opacity="0.88" stroke="#111" stroke-width="2.6" stroke-linejoin="round"/>
<polygon points="1705.7,1063.2 1716.2,1059.7 1739.0,1063.2 1758.4,1070.3 1768.9,1080.8 1775.9,1084.3 1783.0,1098.4 1790.0,1112.4 1797.0,1126.5 1800.5,1140.5 1805.8,1152.8 1802.3,1159.8 1807.5,1172.1 1814.6,1184.4 1821.6,1202.0 1825.1,1217.8 1826.9,1233.6 1835.7,1254.7 1846.2,1281.0 1842.7,1288.1 1833.9,1291.6 1825.1,1300.0 1800.0,1300.0 1780.0,1290.0 1765.0,1300.0 1760.1,1274.0 1758.4,1263.5 1754.9,1242.4 1746.1,1228.4 1737.3,1210.8 1730.3,1196.7 1718.0,1182.7 1709.2,1168.6 1710.9,1158.1 1737.3,1151.1 1728.5,1147.5 1712.7,1145.8 1700.4,1149.3 1695.1,1140.5 1686.3,1137.0 1691.6,1123.0 1695.1,1105.4 1698.6,1087.8 1702.2,1070.3" fill="#D3D3D3" fill-opacity="0.88" stroke="#111" stroke-width="2.6" stroke-linejoin="round"/>
<polygon points="1810.3,1272.0 1845.4,1283.7 1860.1,1318.9 1874.7,1339.3 1868.9,1354.0 1860.1,1365.7 1863.0,1383.3 1868.9,1406.7 1863.0,1424.2 1845.4,1430.1 1833.7,1430.1 1827.9,1406.7 1830.8,1374.5 1833.7,1354.0 1842.5,1339.3 1848.4,1330.6 1836.7,1333.5 1829.3,1342.3 1824.9,1321.8 1819.1,1295.4" fill="#D3D3D3" fill-opacity="0.88" stroke="#111" stroke-width="2.6" stroke-linejoin="round"/>
<path d="M1944.4,1513.7 L1953.7,1511.9 L1959.3,1508.1 L1966.8,1505.3 L1985.6,1504.4 L1997.8,1506.2 L1993.1,1512.8 L2002.4,1517.5 L1994.9,1519.3 L1997.8,1525.0 L2011.8,1531.5 L2006.2,1536.2 L2013.7,1543.7 L2014.6,1551.2 L2017.4,1561.5 L2006.2,1569.9 L1999.6,1567.1 L1997.8,1573.7 L1985.6,1584.9 L1976.2,1593.3 L1966.8,1592.4 L1955.6,1583.0 L1948.1,1587.7 L1935.9,1588.7 L1936.9,1579.3 L1936.9,1564.3 L1948.1,1562.4 L1957.5,1556.8 L1957.5,1547.4 L1948.1,1540.9 L1957.5,1536.2 L1959.3,1532.5 L1948.1,1532.5 L1945.3,1526.8 L1946.2,1522.2 Z M1968.7,1535.3 L1976.2,1530.6 L1999.6,1530.6 L2004.3,1534.3 L1997.8,1538.1 L2004.3,1540.9 L2013.7,1550.3 L2004.3,1554.9 L1999.6,1551.2 L1987.4,1554.0 L1980.0,1547.4 L1970.6,1544.6 L1966.8,1540.0 Z" fill="#D3D3D3" fill-opacity="0.88" fill-rule="evenodd" stroke="#111" stroke-width="3" stroke-linejoin="round"/>
<polygon points="2040.8,1597.1 2051.1,1592.4 2058.6,1584.0 2063.3,1590.5 2066.1,1599.0 2074.6,1601.8 2083.9,1595.2 2094.2,1590.5 2096.1,1597.1 2086.7,1603.7 2079.3,1609.3 2088.6,1613.0 2098.0,1620.5 2107.4,1626.1 2116.7,1631.8 2118.6,1639.3 2079.3,1639.3 2069.9,1629.9 2066.1,1622.4 2058.6,1616.8 2054.9,1611.1 2055.8,1603.7 2049.3,1599.9" fill="#333" stroke="#111" stroke-width="4" stroke-linejoin="round"/>
<polyline points="829.0,1006.0 841.5,1006.0 846.5,1011.0 859.0,1013.5 869.0,1016.0 879.0,1026.0 889.0,1028.5 904.0,1031.0 914.0,1036.0 924.0,1038.5 939.0,1041.0 949.0,1051.0 959.0,1046.0 969.0,1051.0 974.0,1041.0 984.0,1041.0 996.5,1041.0 1001.5,1048.5 1001.5,1066.0 1016.5,1066.0 1029.0,1053.5 1039.0,1066.0 1049.0,1071.0 1064.0,1073.5 1077.0,1081.0" fill="none" stroke="#000" stroke-width="1.6" stroke-linejoin="round"/>
<polyline points="1464.5,491.5 1472.0,484.0 1477.0,476.5 1487.0,474.0 1497.0,469.0 1499.5,461.5 1502.0,466.5 1507.0,471.5 1509.5,481.5 1512.0,489.0 1513.2,501.5 1522.0,496.5 1534.5,494.0 1537.0,504.0 1547.0,501.5 1552.0,496.5 1564.5,489.0 1574.5,484.0 1577.0,489.0 1587.0,491.5 1592.0,486.5 1599.5,491.5 1607.0,489.0 1620.0,486.5" fill="none" stroke="#000" stroke-width="1.6" stroke-linejoin="round"/>
<polyline points="1552.0,496.5 1549.5,509.0 1547.0,526.5 1542.0,534.0 1544.5,544.0 1542.0,551.5 1552.0,559.0 1564.5,561.5 1577.0,569.0 1584.5,576.5 1587.0,589.0 1582.0,599.0 1584.5,609.0 1582.0,621.5 1577.0,634.0 1572.0,644.0 1567.0,654.0 1577.0,659.0 1587.0,664.0 1592.0,676.5 1594.5,691.0" fill="none" stroke="#000" stroke-width="1.6" stroke-linejoin="round"/>
<polyline points="1620.0,486.5 1632.5,489.0 1640.0,474.0 1650.0,464.0 1670.0,461.5 1680.0,456.5 1685.0,469.0 1695.0,464.0 1700.0,454.0 1695.0,449.0 1705.0,449.0 1720.0,451.5 1730.0,456.5 1732.5,444.0 1730.0,436.5 1737.5,426.5 1732.5,414.0 1727.5,411.5 1707.5,410.2 1705.0,400.2 1720.0,399.0 1732.5,392.8 1745.0,390.2 1755.0,387.8 1762.5,389.0 1765.0,399.0 1770.0,409.0 1775.0,414.0 1780.0,429.0 1792.5,434.0 1795.0,444.0 1795.0,461.5 1797.5,471.5 1807.5,474.0 1820.0,476.5 1825.0,484.0 1830.0,494.0 1837.5,496.5 1840.0,509.0 1857.5,511.5 1865.0,504.0 1872.5,502.8 1875.0,509.0 1885.0,506.5 1890.0,514.0 1895.0,521.5 1907.5,514.0 1920.0,509.0 1935.0,507.8 1950.0,509.0 1965.0,509.0" fill="none" stroke="#000" stroke-width="1.6" stroke-linejoin="round"/>
<polyline points="1975.0,539.0 1967.5,559.0 1945.0,576.5 1932.5,589.0 1930.0,604.0 1915.0,614.0 1900.0,624.0 1897.5,644.0 1897.5,659.0 1895.0,664.0" fill="none" stroke="#000" stroke-width="1.6" stroke-linejoin="round"/>
<polyline points="1975.0,551.5 1995.0,549.0 2010.0,554.0 2027.5,564.0 2030.0,589.0 2032.5,609.0 2015.0,614.0 2010.0,626.5 2002.5,646.5 2002.5,664.0 1990.0,676.5 1970.0,684.0 1957.5,691.0" fill="none" stroke="#000" stroke-width="1.6" stroke-linejoin="round"/>
<polyline points="1635.0,691.0 1645.0,679.0 1657.5,669.0 1662.5,654.0 1670.0,646.5 1680.0,649.0 1690.0,646.5 1695.0,644.0 1707.5,646.5 1720.0,639.0 1730.0,636.5 1740.0,639.0 1750.0,634.0 1760.0,629.0 1770.0,626.5 1782.5,626.5 1792.5,629.0 1795.0,634.0 1800.0,641.5 1807.5,644.0 1820.0,644.0 1830.0,649.0 1835.0,654.0 1845.0,639.0 1850.0,629.0 1865.0,626.5 1877.5,629.0 1885.0,639.0 1895.0,644.0" fill="none" stroke="#000" stroke-width="1.6" stroke-linejoin="round"/>
<polyline points="1404.5,908.5 1422.0,896.0 1437.0,888.5 1447.0,896.0 1452.0,903.5 1459.5,898.5 1467.0,908.5 1477.0,911.0 1482.0,921.0 1489.5,926.0 1502.0,931.0 1499.5,941.0 1492.0,946.0 1494.5,953.5 1502.0,956.0 1514.5,956.0 1527.0,953.5 1539.5,951.0 1552.0,948.5 1564.5,948.5 1574.5,946.0 1574.5,928.5 1577.0,913.5 1589.5,906.0 1587.0,891.0 1597.0,883.5 1609.5,886.0 1620.0,891.0" fill="none" stroke="#000" stroke-width="1.6" stroke-linejoin="round"/>
<polyline points="1404.5,908.5 1414.5,921.0 1407.0,926.0 1397.0,926.0 1392.0,931.0 1377.0,936.0 1352.0,938.5 1339.5,939.8 1332.0,946.0 1327.0,966.0 1324.5,978.5 1332.0,991.0 1329.5,1003.5 1337.0,1016.0 1337.0,1028.5 1327.0,1036.0 1317.0,1041.0 1312.0,1046.0 1302.0,1036.0 1294.5,1031.0 1287.0,1036.0 1279.5,1046.0 1282.0,1066.0 1277.0,1073.5 1267.0,1071.0 1262.0,1061.0 1252.0,1061.0 1239.5,1066.0 1227.0,1058.5 1222.0,1056.0 1214.5,1061.0 1202.0,1068.5 1207.0,1081.0 1214.5,1096.0 1207.0,1101.0 1194.5,1103.5 1179.5,1106.0 1177.0,1118.0" fill="none" stroke="#000" stroke-width="1.6" stroke-linejoin="round"/>
<polyline points="1559.5,951.0 1554.5,966.0 1552.0,978.5 1554.5,1003.5 1572.0,998.5 1584.5,998.5 1597.0,996.0 1612.0,996.0 1620.0,998.5" fill="none" stroke="#000" stroke-width="1.6" stroke-linejoin="round"/>
<polyline points="1077.0,1081.0 1092.0,1076.0 1102.0,1066.0 1102.0,1081.0 1117.0,1086.0 1127.0,1101.0 1132.0,1118.0" fill="none" stroke="#000" stroke-width="1.6" stroke-linejoin="round"/>
<polyline points="1620.0,831.0 1627.5,833.5 1645.0,841.0 1652.5,851.0 1660.0,866.0 1652.5,876.0 1645.0,876.0 1640.0,888.5 1630.0,891.0" fill="none" stroke="#000" stroke-width="1.6" stroke-linejoin="round"/>
<polyline points="1957.5,691.0 1965.0,706.0 1972.5,716.0 1985.0,716.0 1995.0,728.5 2000.0,738.5 2015.0,736.0 2030.0,731.0 2040.0,723.5 2045.0,713.5 2057.5,718.5 2070.0,713.5 2080.0,716.0 2095.0,718.5 2110.0,718.5" fill="none" stroke="#000" stroke-width="1.6" stroke-linejoin="round"/>
<polyline points="1925.0,741.0 1920.0,751.0 1907.5,758.5 1895.0,763.5 1882.5,766.0 1880.0,778.5 1870.0,786.0 1845.0,791.0 1832.5,796.0 1820.0,796.0 1810.0,788.5 1795.0,786.0 1777.5,786.0 1767.5,793.5 1762.5,791.0 1745.0,788.5 1720.0,783.5 1707.5,773.5 1695.0,768.5 1687.5,763.5" fill="none" stroke="#000" stroke-width="1.6" stroke-linejoin="round"/>
<polyline points="1925.0,741.0 1945.0,736.0 1957.5,723.5 1965.0,716.0" fill="none" stroke="#000" stroke-width="1.6" stroke-linejoin="round"/>
<polyline points="2095.0,741.0 2082.5,756.0 2070.0,766.0 2057.5,773.5 2045.0,781.0 2032.5,791.0 2020.0,801.0 2010.0,808.5 2007.5,818.5 1995.0,826.0 1982.5,831.0 1975.0,836.0 1957.5,833.5 1945.0,833.5 1920.0,836.0 1907.5,841.0 1895.0,846.0 1882.5,848.5 1870.0,851.0 1860.0,853.5" fill="none" stroke="#000" stroke-width="1.6" stroke-linejoin="round"/>
<polyline points="1905.0,871.0 1902.5,881.0 1890.0,891.0 1882.5,901.0 1870.0,908.5 1860.0,916.0 1845.0,921.0 1835.0,926.0 1825.0,936.0 1827.5,943.5 1845.0,941.0 1860.0,938.5 1870.0,941.0 1877.5,943.5" fill="none" stroke="#000" stroke-width="1.6" stroke-linejoin="round"/>
<polyline points="2135.0,723.5 2140.0,766.0 2135.0,791.0 2145.0,816.0 2157.5,831.0" fill="none" stroke="#000" stroke-width="1.6" stroke-linejoin="round"/>
<polyline points="1670.0,1038.5 1695.0,1036.0 1720.0,1038.5 1727.5,1046.0 1730.0,1066.0 1745.0,1061.0 1760.0,1058.5" fill="none" stroke="#000" stroke-width="1.6" stroke-linejoin="round"/>
<polyline points="1790.0,1041.0 1800.0,1056.0 1815.0,1066.0 1832.5,1066.0 1857.5,1061.0 1870.0,1058.5 1872.5,1066.0 1860.0,1071.0 1865.0,1081.0 1885.0,1091.0 1895.0,1101.0 1907.5,1118.0" fill="none" stroke="#000" stroke-width="1.6" stroke-linejoin="round"/>
<polyline points="1840.0,1003.5 1845.0,1016.0 1835.0,1016.0 1825.0,1021.0 1810.0,1026.0 1795.0,1028.5" fill="none" stroke="#000" stroke-width="1.6" stroke-linejoin="round"/>
<polyline points="2163.0,826.0 2170.5,827.2 2175.5,836.0 2178.0,823.5 2188.0,816.0 2200.5,811.0 2213.0,806.0 2223.0,804.8 2230.5,808.5 2238.0,808.5 2240.5,816.0 2243.0,821.0 2248.0,828.5 2253.0,836.0 2245.5,838.5 2233.0,841.0 2228.0,846.0 2225.5,851.0 2233.0,853.5" fill="none" stroke="#000" stroke-width="1.6" stroke-linejoin="round"/>
<polyline points="1905.0,1118.0 1910.0,1148.0 1920.0,1168.0 1927.5,1188.0 1945.0,1193.0" fill="none" stroke="#000" stroke-width="1.6" stroke-linejoin="round"/>
<polyline points="1760.0,1363.0 1770.0,1375.5 1782.5,1383.0 1795.0,1398.0 1800.0,1418.0 1800.0,1443.0" fill="none" stroke="#000" stroke-width="1.6" stroke-linejoin="round"/>
<polyline points="1870.0,1405.5 1882.5,1403.0 1895.0,1395.5 1907.5,1393.0 1920.0,1405.5 1932.5,1413.0 1945.0,1408.0 1957.5,1398.0 1970.0,1388.0 1982.5,1383.0 1995.0,1368.0 2002.5,1355.5 2010.0,1338.0 2020.0,1323.0 2045.0,1313.0 2060.0,1308.0" fill="none" stroke="#000" stroke-width="1.6" stroke-linejoin="round"/>
<polyline points="1670.0,1118.0 1677.5,1168.0 1682.5,1193.0 1685.0,1230.5 1695.0,1243.0 1707.5,1255.5 1715.0,1268.0 1727.5,1278.0 1740.0,1273.0" fill="none" stroke="#000" stroke-width="1.6" stroke-linejoin="round"/>
<polyline points="1760.0,1268.0 1760.0,1293.0 1752.5,1318.0 1750.0,1343.0 1755.0,1358.0" fill="none" stroke="#000" stroke-width="1.6" stroke-linejoin="round"/>
<polyline points="1132.0,1118.0 1147.0,1133.0 1159.5,1143.0 1172.0,1138.0 1182.0,1128.0 1182.0,1118.0" fill="none" stroke="#000" stroke-width="1.6" stroke-linejoin="round"/>
<polyline points="1337.0,1230.5 1339.5,1243.0 1334.5,1263.0 1327.0,1283.0 1324.5,1293.0 1327.0,1313.0 1327.0,1318.0 1339.5,1318.0 1352.0,1315.5 1364.5,1318.0 1369.5,1335.5 1377.0,1335.5 1389.5,1333.0 1402.0,1335.5 1414.5,1343.0 1422.0,1335.5 1427.0,1323.0 1424.5,1305.5 1422.0,1293.0" fill="none" stroke="#000" stroke-width="1.6" stroke-linejoin="round"/>
<polyline points="1294.5,1213.0 1297.0,1243.0 1267.0,1245.5 1262.0,1258.0 1257.0,1273.0 1244.5,1283.0 1247.0,1293.0 1252.0,1308.0 1252.0,1333.0 1252.0,1343.0 1249.5,1353.0" fill="none" stroke="#000" stroke-width="1.6" stroke-linejoin="round"/>
<polyline points="1437.0,1225.5 1444.5,1230.5 1464.5,1235.5 1477.0,1243.0 1489.5,1248.0 1497.0,1268.0 1502.0,1288.0 1514.5,1293.0 1527.0,1298.0 1539.5,1303.0" fill="none" stroke="#000" stroke-width="1.6" stroke-linejoin="round"/>
<polyline points="1414.5,1343.0 1427.0,1358.0 1452.0,1368.0 1477.0,1373.0 1489.5,1380.5 1497.0,1368.0 1502.0,1365.5 1514.5,1380.5 1522.0,1393.0 1527.0,1405.5 1534.5,1418.0 1547.0,1430.5" fill="none" stroke="#000" stroke-width="1.6" stroke-linejoin="round"/>
<polyline points="1352.0,1463.0 1364.5,1460.5 1377.0,1458.0 1389.5,1453.0 1402.0,1455.5 1407.0,1463.0 1412.0,1478.0 1402.0,1480.5 1392.0,1478.0 1377.0,1468.0 1364.5,1473.0 1359.5,1485.5 1362.0,1500.5 1367.0,1515.5 1377.0,1513.0" fill="none" stroke="#000" stroke-width="1.6" stroke-linejoin="round"/>
<polyline points="1339.5,1190.5 1352.0,1190.5 1364.5,1193.0 1377.0,1198.0 1392.0,1200.5 1397.0,1193.0 1402.0,1188.0 1407.0,1168.0 1427.0,1153.0 1439.5,1143.0 1452.0,1135.5 1464.5,1128.0 1472.0,1118.0" fill="none" stroke="#000" stroke-width="1.6" stroke-linejoin="round"/>
<polyline points="1402.0,1258.0 1407.0,1273.0 1417.0,1288.0 1424.5,1293.0" fill="none" stroke="#000" stroke-width="1.6" stroke-linejoin="round"/>
<polyline points="1377.0,1403.0 1389.5,1413.0 1402.0,1418.0 1427.0,1433.0 1452.0,1438.0 1477.0,1443.0 1502.0,1440.5 1514.5,1448.0 1527.0,1463.0 1539.5,1480.5 1552.0,1488.0 1577.0,1493.0 1602.0,1500.5 1620.0,1500.5" fill="none" stroke="#000" stroke-width="1.6" stroke-linejoin="round"/>
<polyline points="1932.5,1582.5 1930.0,1607.5 1935.0,1620.0 1942.5,1625.0 1940.0,1645.0 1945.0,1657.5 1970.0,1657.5 1990.0,1655.0 2002.5,1665.0 2010.0,1675.0 2012.5,1687.5 2002.5,1695.0 1997.5,1707.5" fill="none" stroke="#000" stroke-width="1.6" stroke-linejoin="round"/>
<polyline points="1632.5,1545.0 1635.0,1570.0 1640.0,1580.0 1652.5,1590.0 1660.0,1605.0 1655.0,1625.0 1657.5,1650.0 1650.0,1660.0 1632.5,1660.0 1620.0,1662.5" fill="none" stroke="#000" stroke-width="1.6" stroke-linejoin="round"/>
<polyline points="831.5,1550.0 846.5,1552.5 859.0,1557.5 869.0,1545.0" fill="none" stroke="#000" stroke-width="1.6" stroke-linejoin="round"/>
<polyline points="869.0,1545.0 879.0,1552.5 889.0,1562.5 896.5,1565.0 904.0,1560.0 909.0,1552.5 914.0,1550.0 924.0,1552.5 931.5,1562.5 944.0,1562.5 959.0,1562.5 974.0,1562.5 971.5,1555.0 974.0,1545.0" fill="none" stroke="#000" stroke-width="1.6" stroke-linejoin="round"/>
<polyline points="1307.0,1323.0 1304.5,1343.0 1307.0,1363.0 1314.5,1380.5 1327.0,1393.0" fill="none" stroke="#111" stroke-width="4" stroke-linecap="round" stroke-linejoin="round"/>
<polyline points="829.0,1003.5 834.0,986.0 854.0,983.5 869.0,998.5 889.0,1001.0 909.0,1002.2 924.0,1001.0 934.0,1008.5 959.0,1003.5 979.0,1001.0 996.5,1018.5 1004.0,1021.0 1021.5,1016.0 1046.5,1016.0 1059.0,1021.0 1077.0,1017.2" fill="none" stroke="#A9A9A9" stroke-width="4.5" stroke-linejoin="round" stroke-linecap="round"/>
<polyline points="799.0,1118.0 799.0,1103.5 809.0,1081.0 814.0,1061.0 826.5,1046.0 834.0,1043.5 854.0,1041.0 861.5,1043.5 866.5,1051.0 884.0,1053.5 891.5,1058.5 904.0,1073.5 921.5,1073.5 939.0,1068.5 949.0,1063.5 964.0,1064.8 974.0,1071.0 979.0,1081.0 984.0,1091.0 1001.5,1096.0 1021.5,1098.5 1034.0,1111.0 1036.5,1118.0" fill="none" stroke="#A9A9A9" stroke-width="4.5" stroke-linejoin="round" stroke-linecap="round"/>
<polyline points="874.0,1118.0 879.0,1096.0 889.0,1086.0 904.0,1088.5 914.0,1098.5 924.0,1111.0 934.0,1116.0 949.0,1118.0" fill="none" stroke="#A9A9A9" stroke-width="4.5" stroke-linejoin="round" stroke-linecap="round"/>
<polyline points="1995.0,674.0 1992.5,679.0 1975.0,689.0 1970.0,691.0" fill="none" stroke="#A9A9A9" stroke-width="4.5" stroke-linejoin="round" stroke-linecap="round"/>
<polyline points="1077.0,1023.5 1102.0,1016.0 1139.5,1012.2 1139.5,991.0 1142.0,966.0 1147.0,951.0 1152.0,926.0 1152.0,906.0 1147.0,893.5 1132.0,878.5 1119.5,866.0 1107.0,856.0" fill="none" stroke="#A9A9A9" stroke-width="4.5" stroke-linejoin="round" stroke-linecap="round"/>
<polyline points="1147.0,893.5 1147.0,866.0 1149.5,853.5 1147.0,841.0 1152.0,833.5 1159.5,832.2 1172.0,838.5 1182.0,846.0 1192.0,851.0 1202.0,853.5 1207.0,861.0 1217.0,866.0 1227.0,863.5 1239.5,861.0 1252.0,863.5 1264.5,861.0 1272.0,871.0 1277.0,876.0 1294.5,876.0 1302.0,881.0 1312.0,873.5 1327.0,871.0 1332.0,868.5 1342.0,876.0 1349.5,883.5 1352.0,893.5 1352.0,898.5 1377.0,898.5 1402.0,901.0 1414.5,896.0 1427.0,886.0 1437.0,881.0 1452.0,881.0 1472.0,878.5 1479.5,891.0 1489.5,883.5 1502.0,866.0 1509.5,856.0 1517.0,853.5 1527.0,851.0 1534.5,856.0 1552.0,856.0 1557.0,866.0 1577.0,868.5 1597.0,861.0 1607.0,851.0 1609.5,836.0 1607.0,821.0 1620.0,808.5" fill="none" stroke="#A9A9A9" stroke-width="4.5" stroke-linejoin="round" stroke-linecap="round"/>
<polyline points="1437.0,881.0 1439.5,866.0 1437.0,851.0 1442.0,841.0 1439.5,816.0 1437.0,808.5 1432.0,806.0" fill="none" stroke="#A9A9A9" stroke-width="4.5" stroke-linejoin="round" stroke-linecap="round"/>
<polyline points="1382.0,1118.0 1392.0,1103.5 1402.0,1091.0 1414.5,1086.0 1424.5,1081.0 1432.0,1076.0 1452.0,1061.0 1454.5,1046.0 1457.0,1041.0 1467.0,1041.0 1477.0,1046.0 1502.0,1056.0 1514.5,1058.5 1527.0,1058.5 1542.0,1056.0 1544.5,1046.0 1547.0,1061.0 1562.0,1063.5 1572.0,1061.0 1577.0,1071.0 1577.0,1086.0 1582.0,1096.0 1592.0,1101.0 1602.0,1106.0" fill="none" stroke="#A9A9A9" stroke-width="4.5" stroke-linejoin="round" stroke-linecap="round"/>
<polyline points="1427.0,1118.0 1439.5,1111.0 1452.0,1106.0 1477.0,1101.0 1502.0,1093.5 1514.5,1091.0 1527.0,1086.0 1542.0,1081.0 1552.0,1076.0 1557.0,1071.0 1547.0,1066.0" fill="none" stroke="#A9A9A9" stroke-width="4.5" stroke-linejoin="round" stroke-linecap="round"/>
<polyline points="1620.0,801.0 1635.0,786.0 1657.5,768.5 1667.5,763.5" fill="none" stroke="#A9A9A9" stroke-width="4.5" stroke-linejoin="round" stroke-linecap="round"/>
<polyline points="1727.5,888.5 1732.5,883.5 1730.0,876.0 1720.0,876.0 1715.0,871.0 1705.0,866.0 1700.0,871.0 1692.5,866.0 1682.5,861.0 1675.0,851.0 1675.0,831.0 1667.5,816.0 1670.0,796.0 1695.0,776.0 1705.0,776.0 1707.5,786.0 1715.0,796.0 1717.5,801.0" fill="none" stroke="#A9A9A9" stroke-width="4.5" stroke-linejoin="round" stroke-linecap="round"/>
<polyline points="1727.5,888.5 1745.0,881.0 1760.0,871.0 1775.0,861.0 1795.0,851.0 1815.0,841.0 1832.5,831.0 1837.5,821.0 1857.5,818.5 1870.0,813.5 1895.0,806.0 1920.0,798.5 1945.0,793.5 1970.0,793.5 1995.0,791.0 2010.0,783.5 2020.0,771.0 2032.5,758.5 2045.0,748.5 2057.5,738.5 2082.5,737.2 2107.5,736.0 2132.5,726.0" fill="none" stroke="#A9A9A9" stroke-width="4.5" stroke-linejoin="round" stroke-linecap="round"/>
<polyline points="1630.0,898.5 1637.5,881.0 1650.0,881.0 1660.0,888.5 1670.0,891.0 1685.0,891.0 1695.0,893.5 1700.0,881.0 1700.0,871.0" fill="none" stroke="#A9A9A9" stroke-width="4.5" stroke-linejoin="round" stroke-linecap="round"/>
<polyline points="1857.5,831.0 1855.0,846.0 1850.0,866.0 1845.0,886.0 1840.0,896.0 1832.5,908.5 1820.0,916.0 1810.0,918.5 1795.0,921.0 1780.0,931.0 1770.0,941.0 1760.0,956.0" fill="none" stroke="#A9A9A9" stroke-width="4.5" stroke-linejoin="round" stroke-linecap="round"/>
<polyline points="2105.0,738.5 2102.5,753.5 2095.0,773.5 2090.0,796.0 2100.0,811.0 2110.0,821.0 2120.0,831.0 2130.0,841.0 2137.5,851.0 2132.5,866.0 2132.5,891.0 2115.0,906.0 2095.0,903.5 2070.0,906.0 2045.0,911.0 2040.0,926.0 2025.0,941.0 2012.5,953.5" fill="none" stroke="#A9A9A9" stroke-width="4.5" stroke-linejoin="round" stroke-linecap="round"/>
<polyline points="1760.0,961.0 1770.0,966.0 1775.0,976.0 1785.0,991.0 1790.0,1006.0 1792.5,1023.5 1787.5,1041.0 1780.0,1056.0 1772.5,1066.0 1775.0,1081.0 1782.5,1091.0 1795.0,1096.0 1815.0,1101.0 1835.0,1103.5 1855.0,1101.0 1865.0,1106.0" fill="none" stroke="#A9A9A9" stroke-width="4.5" stroke-linejoin="round" stroke-linecap="round"/>
<polyline points="1800.0,691.0 1812.5,701.0 1825.0,696.0 1832.5,706.0 1845.0,711.0 1870.0,713.5 1890.0,714.8 1892.5,706.0 1910.0,691.0" fill="none" stroke="#A9A9A9" stroke-width="4.5" stroke-linejoin="round" stroke-linecap="round"/>
<polyline points="1805.0,1153.0 1820.0,1163.0 1845.0,1175.5 1857.5,1185.5 1870.0,1193.0 1895.0,1198.0 1907.5,1203.0 1920.0,1215.5 1932.5,1220.5 1945.0,1223.0 1970.0,1218.0 1985.0,1220.5 2010.0,1218.0" fill="none" stroke="#A9A9A9" stroke-width="4.5" stroke-linejoin="round" stroke-linecap="round"/>
<polyline points="1827.5,1225.5 1845.0,1233.0 1870.0,1240.5 1895.0,1240.5 1907.5,1248.0 1920.0,1255.5 1932.5,1260.5 1945.0,1260.5 1957.5,1253.0 1970.0,1248.0 1982.5,1248.0 1995.0,1250.5 2007.5,1268.0 2020.0,1280.5 2045.0,1283.0 2070.0,1285.5 2095.0,1293.0 2107.5,1308.0" fill="none" stroke="#A9A9A9" stroke-width="4.5" stroke-linejoin="round" stroke-linecap="round"/>
<polyline points="1870.0,1358.0 1882.5,1363.0 1895.0,1368.0 1907.5,1375.5 1920.0,1383.0 1932.5,1390.5 1945.0,1395.5 1952.5,1400.5" fill="none" stroke="#A9A9A9" stroke-width="4.5" stroke-linejoin="round" stroke-linecap="round"/>
<polyline points="1620.0,1473.0 1645.0,1485.5 1670.0,1493.0 1695.0,1498.0 1720.0,1493.0 1745.0,1475.5 1770.0,1468.0 1795.0,1473.0 1812.5,1480.5 1832.5,1475.5 1857.5,1468.0 1870.0,1463.0 1885.0,1473.0 1895.0,1478.0" fill="none" stroke="#A9A9A9" stroke-width="4.5" stroke-linejoin="round" stroke-linecap="round"/>
<polyline points="1812.5,1480.5 1817.5,1505.5 1815.0,1530.5 1810.0,1545.0" fill="none" stroke="#A9A9A9" stroke-width="4.5" stroke-linejoin="round" stroke-linecap="round"/>
<polyline points="1795.0,1318.0 1790.0,1330.5 1782.5,1343.0 1777.5,1358.0" fill="none" stroke="#A9A9A9" stroke-width="4.5" stroke-linejoin="round" stroke-linecap="round"/>
<polyline points="1912.5,1130.5 1932.5,1138.0 1945.0,1140.5 1970.0,1135.5 1995.0,1133.0 2015.0,1130.5" fill="none" stroke="#A9A9A9" stroke-width="4.5" stroke-linejoin="round" stroke-linecap="round"/>
<polyline points="1960.0,1455.5 1970.0,1463.0 1980.0,1473.0 1985.0,1483.0 1990.0,1493.0" fill="none" stroke="#A9A9A9" stroke-width="4.5" stroke-linejoin="round" stroke-linecap="round"/>
<polyline points="1895.0,1430.5 1907.5,1443.0 1920.0,1440.5 1932.5,1438.0 1945.0,1443.0 1957.5,1453.0" fill="none" stroke="#A9A9A9" stroke-width="4.5" stroke-linejoin="round" stroke-linecap="round"/>
<polyline points="1865.0,1468.0 1870.0,1493.0 1875.0,1518.0 1870.0,1545.0" fill="none" stroke="#A9A9A9" stroke-width="4.5" stroke-linejoin="round" stroke-linecap="round"/>
<polyline points="1895.0,1478.0 1900.0,1503.0 1907.5,1528.0 1915.0,1545.0" fill="none" stroke="#A9A9A9" stroke-width="4.5" stroke-linejoin="round" stroke-linecap="round"/>
<polyline points="671.5,1148.0 674.0,1173.0 679.0,1193.0 684.0,1208.0 689.0,1223.0 684.0,1225.5 674.0,1220.5 659.0,1218.0 649.0,1213.0 634.0,1214.2 621.5,1215.5 609.0,1220.5 604.0,1228.0 596.5,1235.5 596.5,1248.0 594.0,1258.0 584.0,1260.5 571.5,1263.0 559.0,1255.5 554.0,1248.0" fill="none" stroke="#A9A9A9" stroke-width="4.5" stroke-linejoin="round" stroke-linecap="round"/>
<polyline points="674.0,1148.0 684.0,1138.0 696.5,1123.0 709.0,1120.5 724.0,1118.0" fill="none" stroke="#A9A9A9" stroke-width="4.5" stroke-linejoin="round" stroke-linecap="round"/>
<polyline points="874.0,1118.0 871.5,1133.0 859.0,1140.5" fill="none" stroke="#A9A9A9" stroke-width="4.5" stroke-linejoin="round" stroke-linecap="round"/>
<polyline points="621.5,1310.5 629.0,1298.0 644.0,1290.5 659.0,1293.0 674.0,1298.0 684.0,1300.5 696.5,1293.0 709.0,1288.0 724.0,1273.0 739.0,1258.0 751.5,1253.0 759.0,1233.0 769.0,1225.5 779.0,1230.5 796.5,1233.0 809.0,1228.0 811.5,1243.0 816.5,1263.0 814.0,1278.0 819.0,1293.0 824.0,1313.0 834.0,1318.0 846.5,1328.0 859.0,1338.0 871.5,1353.0 879.0,1363.0 884.0,1375.5 896.5,1383.0 904.0,1390.5 916.5,1390.5 926.5,1380.5 934.0,1375.5 946.5,1373.0 959.0,1378.0 971.5,1373.0 984.0,1375.5 1001.5,1373.0 1021.5,1370.5 1046.5,1365.5 1077.0,1365.5" fill="none" stroke="#A9A9A9" stroke-width="4.5" stroke-linejoin="round" stroke-linecap="round"/>
<polyline points="601.5,1298.0 609.0,1318.0 619.0,1333.0 634.0,1343.0 646.5,1350.5 659.0,1355.5 671.5,1363.0 684.0,1355.5 699.0,1345.5 714.0,1345.5 729.0,1350.5 744.0,1358.0 749.0,1368.0 749.0,1383.0 759.0,1385.5 784.0,1383.0 796.5,1380.5 804.0,1388.0 821.5,1390.5 834.0,1390.5 844.0,1395.5 849.0,1408.0 854.0,1418.0 859.0,1430.5 866.5,1443.0 871.5,1453.0 884.0,1458.0 896.5,1463.0 904.0,1473.0 904.0,1483.0 914.0,1480.5 921.5,1473.0 934.0,1470.5 959.0,1468.0 964.0,1458.0 966.5,1443.0 969.0,1428.0 979.0,1423.0 979.0,1410.5 991.5,1405.5 1001.5,1393.0 1004.0,1383.0 1004.0,1373.0" fill="none" stroke="#A9A9A9" stroke-width="4.5" stroke-linejoin="round" stroke-linecap="round"/>
<polyline points="709.0,1463.0 721.5,1478.0 734.0,1488.0 741.5,1493.0 746.5,1505.5 754.0,1515.5 771.5,1513.0 784.0,1505.5 796.5,1493.0 804.0,1495.5 814.0,1505.5 821.5,1510.5 826.5,1508.0 824.0,1493.0 834.0,1488.0 854.0,1488.0 866.5,1480.5 884.0,1480.5 896.5,1483.0 909.0,1478.0 914.0,1473.0" fill="none" stroke="#A9A9A9" stroke-width="4.5" stroke-linejoin="round" stroke-linecap="round"/>
<polyline points="1077.0,1148.0 1102.0,1158.0 1114.5,1173.0 1127.0,1190.5 1139.5,1200.5 1152.0,1210.5 1164.5,1220.5 1177.0,1223.0 1189.5,1220.5 1202.0,1193.0 1214.5,1180.5 1227.0,1168.0 1239.5,1155.5 1252.0,1143.0 1264.5,1138.0 1277.0,1135.5 1289.5,1133.0 1302.0,1128.0 1314.5,1125.5 1327.0,1123.0 1352.0,1120.5 1377.0,1119.2 1402.0,1118.0" fill="none" stroke="#A9A9A9" stroke-width="4.5" stroke-linejoin="round" stroke-linecap="round"/>
<polyline points="1077.0,1370.5 1097.0,1375.5 1107.0,1393.0 1127.0,1400.5 1152.0,1400.5 1177.0,1393.0 1192.0,1383.0 1197.0,1363.0 1202.0,1353.0 1212.0,1358.0 1217.0,1353.0" fill="none" stroke="#A9A9A9" stroke-width="4.5" stroke-linejoin="round" stroke-linecap="round"/>
<polyline points="1212.0,1358.0 1207.0,1343.0 1197.0,1333.0 1192.0,1318.0 1189.5,1303.0 1197.0,1293.0 1207.0,1280.5 1212.0,1268.0 1209.5,1258.0 1212.0,1248.0 1217.0,1238.0 1227.0,1223.0 1239.5,1208.0 1252.0,1193.0 1257.0,1180.5 1262.0,1168.0 1272.0,1158.0 1282.0,1148.0 1292.0,1143.0 1302.0,1138.0" fill="none" stroke="#A9A9A9" stroke-width="4.5" stroke-linejoin="round" stroke-linecap="round"/>
<polyline points="1217.0,1353.0 1227.0,1363.0 1239.5,1368.0 1252.0,1375.5 1264.5,1383.0 1277.0,1393.0 1289.5,1400.5 1302.0,1408.0 1314.5,1405.5 1327.0,1398.0 1339.5,1393.0 1352.0,1388.0 1364.5,1388.0 1377.0,1390.5 1389.5,1390.5 1402.0,1395.5 1414.5,1405.5 1427.0,1413.0 1439.5,1415.5 1452.0,1410.5 1464.5,1413.0 1477.0,1413.0 1489.5,1410.5 1502.0,1413.0 1514.5,1418.0 1527.0,1420.5 1539.5,1425.5 1549.5,1428.0" fill="none" stroke="#A9A9A9" stroke-width="4.5" stroke-linejoin="round" stroke-linecap="round"/>
<polyline points="1372.0,1475.5 1377.0,1480.5 1374.5,1493.0 1382.0,1505.5 1392.0,1518.0 1402.0,1528.0 1409.5,1545.0" fill="none" stroke="#A9A9A9" stroke-width="4.5" stroke-linejoin="round" stroke-linecap="round"/>
<polyline points="1527.0,1205.5 1532.0,1230.5 1534.5,1255.5 1539.5,1280.5 1542.0,1308.0 1544.5,1330.5 1547.0,1355.5 1544.5,1380.5 1547.0,1405.5 1549.5,1428.0 1557.0,1450.5 1564.5,1468.0 1572.0,1493.0 1584.5,1505.5 1602.0,1508.0 1620.0,1508.0" fill="none" stroke="#A9A9A9" stroke-width="4.5" stroke-linejoin="round" stroke-linecap="round"/>
<polyline points="1402.0,1215.5 1404.5,1200.5 1409.5,1190.5 1427.0,1180.5 1452.0,1175.5 1477.0,1168.0 1502.0,1163.0 1527.0,1158.0 1552.0,1155.5 1577.0,1150.5" fill="none" stroke="#A9A9A9" stroke-width="4.5" stroke-linejoin="round" stroke-linecap="round"/>
<polyline points="1434.5,1288.0 1439.5,1305.5 1452.0,1318.0 1459.5,1325.5 1477.0,1325.5 1489.5,1308.0 1502.0,1298.0 1514.5,1293.0" fill="none" stroke="#A9A9A9" stroke-width="4.5" stroke-linejoin="round" stroke-linecap="round"/>
<polyline points="1497.0,1218.0 1502.0,1243.0 1499.5,1268.0 1507.0,1280.5 1527.0,1273.0 1552.0,1258.0 1577.0,1238.0 1589.5,1223.0 1582.0,1205.5" fill="none" stroke="#A9A9A9" stroke-width="4.5" stroke-linejoin="round" stroke-linecap="round"/>
<polyline points="1564.5,1380.5 1577.0,1368.0 1589.5,1355.5 1602.0,1350.5 1620.0,1348.0" fill="none" stroke="#A9A9A9" stroke-width="4.5" stroke-linejoin="round" stroke-linecap="round"/>
<polyline points="1812.5,1545.0 1815.0,1582.5 1820.0,1615.0 1817.5,1645.0 1820.0,1670.0 1827.5,1695.0 1835.0,1720.0 1837.5,1745.0 1840.0,1770.0 1837.5,1795.0 1840.0,1820.0 1842.5,1845.0 1850.0,1870.0 1852.5,1895.0 1855.0,1915.0" fill="none" stroke="#A9A9A9" stroke-width="4.5" stroke-linejoin="round" stroke-linecap="round"/>
<polyline points="1835.0,1795.0 1832.5,1820.0 1835.0,1845.0 1845.0,1860.0 1847.5,1870.0 1840.0,1880.0 1825.0,1877.5 1810.0,1875.0 1805.0,1885.0 1805.0,1897.5" fill="none" stroke="#A9A9A9" stroke-width="4.5" stroke-linejoin="round" stroke-linecap="round"/>
<polyline points="1760.0,1570.0 1745.0,1565.0 1730.0,1570.0 1720.0,1557.5 1715.0,1545.0" fill="none" stroke="#A9A9A9" stroke-width="4.5" stroke-linejoin="round" stroke-linecap="round"/>
<polyline points="1620.0,1560.0 1645.0,1555.0 1670.0,1552.5 1695.0,1550.0" fill="none" stroke="#A9A9A9" stroke-width="4.5" stroke-linejoin="round" stroke-linecap="round"/>
<polyline points="1620.0,1720.0 1635.0,1715.0 1645.0,1707.5 1660.0,1697.5 1682.5,1700.0 1695.0,1702.5 1707.5,1707.5 1732.5,1710.0 1750.0,1715.0 1757.5,1725.0 1762.5,1745.0 1765.0,1770.0 1760.0,1795.0 1762.5,1820.0 1770.0,1840.0 1782.5,1857.5 1795.0,1857.5 1800.0,1845.0 1820.0,1840.0 1832.5,1832.5" fill="none" stroke="#A9A9A9" stroke-width="4.5" stroke-linejoin="round" stroke-linecap="round"/>
<polyline points="1827.5,1700.0 1845.0,1705.0 1857.5,1710.0 1870.0,1702.5 1882.5,1695.0 1895.0,1692.5 1907.5,1695.0 1920.0,1700.0 1935.0,1707.5 1945.0,1720.0 1942.5,1735.0 1932.5,1742.5 1920.0,1750.0 1907.5,1752.5 1895.0,1757.5 1882.5,1765.0 1870.0,1765.0 1857.5,1760.0 1845.0,1752.5 1837.5,1745.0" fill="none" stroke="#A9A9A9" stroke-width="4.5" stroke-linejoin="round" stroke-linecap="round"/>
<polyline points="1880.0,1675.0 1880.0,1695.0" fill="none" stroke="#A9A9A9" stroke-width="4.5" stroke-linejoin="round" stroke-linecap="round"/>
<polyline points="1972.5,1595.0 1982.5,1607.5 2007.5,1612.5 2032.5,1627.5 2045.0,1630.0 2057.5,1620.0 2082.5,1622.5 2107.5,1632.5 2115.0,1657.5 2132.5,1650.0 2145.0,1645.0 2163.0,1650.0" fill="none" stroke="#A9A9A9" stroke-width="4.5" stroke-linejoin="round" stroke-linecap="round"/>
<polyline points="1882.5,1545.0 1895.0,1560.0 1907.5,1570.0 1915.0,1595.0 1920.0,1610.0 1932.5,1627.5" fill="none" stroke="#A9A9A9" stroke-width="4.5" stroke-linejoin="round" stroke-linecap="round"/>
<polyline points="1412.0,1545.0 1427.0,1555.0 1439.5,1565.0 1452.0,1570.0 1464.5,1572.5 1477.0,1572.5 1489.5,1570.0 1502.0,1560.0 1507.0,1565.0 1514.5,1582.5 1522.0,1600.0 1532.0,1615.0 1537.0,1632.5 1539.5,1645.0 1547.0,1657.5 1552.0,1665.0 1562.0,1675.0 1572.0,1680.0 1589.5,1675.0 1602.0,1670.0 1609.5,1660.0 1607.0,1650.0 1602.0,1640.0 1592.0,1620.0 1584.5,1607.5 1577.0,1595.0 1574.5,1582.5 1577.0,1570.0 1572.0,1557.5 1577.0,1550.0 1584.5,1545.0" fill="none" stroke="#A9A9A9" stroke-width="4.5" stroke-linejoin="round" stroke-linecap="round"/>
<polyline points="2163.0,1670.0 2173.0,1675.0 2188.0,1672.5 2200.5,1670.0 2213.0,1662.5 2220.5,1655.0 2228.0,1652.5" fill="none" stroke="#A9A9A9" stroke-width="4.5" stroke-linejoin="round" stroke-linecap="round"/>
<polyline points="534.0,410.8 1966.0,410.8" fill="none" stroke="#808080" stroke-width="2.8"/>
<polyline points="1004.1,410.8 1004.1,1580.6" fill="none" stroke="#808080" stroke-width="2.8"/>
<polyline points="1510.8,264.0 1512.0,891.0 1517.0,931.0 1522.0,966.0 1527.0,1118.0 1529.5,1118.0 1539.5,1368.0 1547.0,1545.0 1549.5,1580.6" fill="none" stroke="#808080" stroke-width="2.8"/>
<polyline points="534.0,1580.6 1927.0,1580.6" fill="none" stroke="#808080" stroke-width="2.8"/>
<polyline points="1380.8,1580.6 1380.8,1958.0" fill="none" stroke="#808080" stroke-width="2.8"/>
<polyline points="1381.0,1905.0 1855.0,1906.0" fill="none" stroke="#808080" stroke-width="2.8"/>
<polyline points="557.8,1580.6 557.8,1702.5" fill="none" stroke="#808080" stroke-width="2.8"/>
<polyline points="620.0,1580.6 620.0,1687.5 631.5,1702.5" fill="none" stroke="#808080" stroke-width="2.8"/>
<polyline points="1944.5,1580.6 1944.5,1170.0 2318.0,761.0" fill="none" stroke="#808080" stroke-width="2.8"/>
<polyline points="2235.5,1675.0 2250.5,1675.0 2263.0,1673.8 2270.5,1677.5 2275.5,1685.0 2283.0,1687.5 2293.0,1686.2 2303.0,1687.5 2308.0,1680.0 2313.0,1670.0 2318.0,1655.0 2320.5,1645.0 2323.0,1637.5 2335.5,1632.5" fill="none" stroke="#808080" stroke-width="2.6" stroke-linejoin="round"/>
<polyline points="2163.0,1795.0 2183.0,1775.0 2208.0,1742.5 2238.0,1717.5 2273.0,1702.5 2303.0,1686.2" fill="none" stroke="#808080" stroke-width="2.6" stroke-linejoin="round"/>
<polyline points="2245.5,1837.5 2270.5,1827.5 2285.5,1811.2 2310.5,1808.8 2328.0,1792.5 2338.0,1792.5" fill="none" stroke="#808080" stroke-width="2.6" stroke-linejoin="round"/>
<polyline points="2245.5,1837.5 2258.0,1845.0 2263.0,1862.5 2293.0,1875.0 2338.0,1887.5" fill="none" stroke="#808080" stroke-width="2.6" stroke-linejoin="round"/>
<polyline points="2323.0,1695.0 2328.0,1690.0 2335.5,1690.0 2335.5,1702.5 2325.5,1705.0 2323.0,1695.0" fill="none" stroke="#808080" stroke-width="2.6" stroke-linejoin="round"/>
<polyline points="2163.0,1795.0 2150.0,1807.5 2132.5,1825.0 2127.5,1827.5 2127.5,1890.0 2120.0,1895.0 2107.5,1905.0 2095.0,1920.0 2090.0,1932.5 2095.0,1945.0 2100.0,1957.5" fill="none" stroke="#808080" stroke-width="2.6" stroke-linejoin="round"/>
<polyline points="2030.0,266.5 2020.0,271.5 2015.0,279.0 2017.5,291.5 2010.0,296.5 2005.0,314.0 1995.0,326.5 1990.0,339.0 1982.5,351.5 1977.5,364.0 1975.0,376.5 1972.5,389.0 1970.0,409.0" fill="none" stroke="#808080" stroke-width="2.6" stroke-linejoin="round"/>
<polygon points="534.0,1161.8 544.0,1163.0 559.0,1164.2 571.5,1163.0 584.0,1161.8 596.5,1158.0 609.0,1150.5 621.5,1149.2 639.0,1150.5 654.0,1153.0 664.0,1150.5 674.0,1145.5 679.0,1135.5 681.5,1125.5 684.0,1118.0 684.0,1118.0 686.5,1101.0 689.0,1088.5 696.5,1081.0 709.0,1076.0 719.0,1071.0 726.5,1073.5 734.0,1066.0 744.0,1061.0 749.0,1053.5 754.0,1046.0 761.5,1038.5 766.5,1031.0 771.5,1026.0 781.5,1023.5 789.0,1021.0 794.0,1013.5 799.0,1008.5 804.0,1001.0 809.0,998.5 811.5,1008.5 819.0,1007.2 826.5,1004.8 826.5,991.0 831.5,981.0 834.0,973.5 836.5,968.5 846.5,966.0 854.0,963.5 859.0,963.5 869.0,968.5 876.5,971.0 881.5,966.0 889.0,967.2 901.5,971.0 906.5,971.0 909.0,963.5 911.5,953.5 916.5,948.5 924.0,941.0 926.5,933.5 926.5,926.0 916.5,923.5 916.5,921.0 924.0,916.0 931.5,906.0 939.0,908.5 946.5,911.0 954.0,913.5 961.5,916.0 969.0,913.5 976.5,911.0 984.0,909.8 991.5,911.0 989.0,903.5 986.5,896.0 989.0,888.5 991.5,881.0 994.0,876.0 1001.5,871.0 1006.5,866.0 1011.5,858.5 1014.0,851.0 1011.5,843.5 1014.0,838.5 1009.0,833.5 1006.5,828.5 1004.0,821.0 999.0,816.0 996.5,811.0 1004.0,808.5 1006.5,806.0 999.0,806.0 991.5,803.5 991.5,796.0 994.0,791.0 999.0,786.0 1004.0,781.0 1009.0,776.0 1009.0,771.0 1006.5,766.0 1014.0,763.5 1024.0,766.0 1031.5,764.8 1041.5,766.0 1044.0,771.0 1049.0,776.0 1054.0,778.5 1061.5,777.2 1064.0,773.5 1061.5,766.0 1066.5,761.0 1071.5,753.5 1077.0,748.5 1077.0,748.5 1087.0,743.5 1097.0,738.5 1112.0,731.0 1127.0,738.5 1142.0,743.5 1152.0,748.5 1157.0,741.0 1154.5,731.0 1162.0,723.5 1167.0,711.0 1177.0,713.5 1187.0,713.5 1202.0,712.2 1214.5,716.0 1217.0,721.0 1227.0,718.5 1237.0,719.8 1247.0,716.0 1252.0,706.0 1257.0,698.5 1262.0,691.0 1262.0,691.0 1274.5,674.0 1277.0,664.0 1284.5,659.0 1294.5,655.2 1299.5,660.2 1309.5,661.5 1322.0,659.0 1332.0,654.0 1339.5,646.5 1347.0,644.0 1352.0,636.5 1362.0,626.5 1367.0,619.0 1369.5,609.0 1377.0,601.5 1379.5,594.0 1382.0,586.5 1387.0,582.8 1397.0,580.2 1404.5,576.5 1412.0,569.0 1419.5,564.0 1424.5,554.0 1429.5,546.5 1437.0,539.0 1437.0,531.5 1432.0,526.5 1434.5,519.0 1444.5,514.0 1449.5,509.0 1454.5,501.5 1459.5,494.0 1454.5,489.0 1447.0,486.5 1447.0,479.0 1442.0,469.0 1437.0,461.5 1432.0,454.0 1427.0,449.0 1422.0,449.0 1417.0,451.5 1414.5,439.0 1409.5,434.0 1407.0,426.5 1404.5,416.5 1404.5,406.5 1407.0,396.5 1414.5,389.0 1409.5,381.5 1404.5,374.0 1407.0,364.0 1412.0,359.0 1419.5,354.0 1424.5,350.2 1417.0,346.5 1412.0,344.0 1414.5,336.5 1419.5,331.5 1422.0,324.0 1432.0,322.8 1439.5,321.5 1444.5,326.5 1449.5,324.0 1452.0,314.0 1457.0,307.8 1467.0,304.0 1474.5,309.0 1482.0,319.0 1489.5,320.2 1497.0,311.5 1507.0,307.8 1512.0,301.5 1512.0,294.0 1522.0,289.0 1532.0,284.0 1534.5,279.0 1539.5,276.5 1542.0,269.0 1552.0,266.5 1557.0,265.2 1564.5,269.0 1574.5,274.0 1584.5,274.0 1589.5,284.0 1594.5,294.0 1599.5,299.0 1597.0,306.5 1592.0,316.5 1592.0,321.5 1599.5,322.8 1609.5,316.5 1620.0,307.8 1620.0,306.5 1627.5,314.0 1635.0,321.5 1645.0,327.8 1655.0,332.8 1660.0,326.5 1665.0,316.5 1675.0,314.0 1680.0,306.5 1690.0,307.8 1695.0,311.5 1700.0,304.0 1710.0,299.0 1720.0,297.8 1727.5,304.0 1725.0,314.0 1720.0,324.0 1727.5,330.2 1737.5,327.8 1737.5,319.0 1742.5,314.0 1757.5,311.5 1767.5,314.0 1772.5,324.0 1780.0,326.5 1790.0,324.0 1795.0,329.0 1805.0,336.5 1812.5,335.2 1820.0,329.0 1827.5,330.2 1835.0,336.5 1840.0,341.5 1850.0,339.0 1860.0,341.5 1870.0,346.5 1880.0,351.5 1890.0,349.0 1897.5,349.0 1907.5,356.5 1920.0,354.0 1935.0,352.8 1950.0,352.8 1965.0,354.0 1975.0,357.8 1960.0,360.2 1945.0,364.0 1932.5,366.5 1920.0,369.0 1915.0,374.0 1925.0,375.2 1935.0,374.0 1947.5,376.5 1957.5,381.5 1962.5,386.5 1970.0,391.5 1965.0,395.2 1952.5,394.0 1942.5,395.2 1932.5,397.8 1932.5,401.5 1940.0,406.5 1945.0,411.5 1962.5,411.5 1965.0,426.5 1967.5,439.0 1967.5,454.0 1970.0,464.0 1972.5,479.0 1970.0,489.0 1967.5,504.0 1967.5,514.0 1975.0,521.5 1980.0,531.5 1987.5,541.5 1995.0,546.5 2002.5,539.0 2012.5,544.0 2020.0,541.5 2032.5,541.5 2045.0,541.5 2057.5,544.0 2067.5,541.5 2072.5,559.0 2077.5,581.5 2085.0,599.0 2092.5,619.0 2097.5,639.0 2105.0,659.0 2112.5,676.5 2115.0,691.0 2115.0,691.0 2112.5,701.0 2110.0,711.0 2107.5,718.5 2120.0,721.0 2132.5,723.5 2145.0,719.8 2155.0,716.0 2163.0,713.5 2163.0,716.0 2178.0,711.0 2193.0,704.8 2208.0,702.2 2223.0,703.5 2238.0,708.5 2253.0,713.5 2263.0,721.0 2275.5,728.5 2288.0,733.5 2303.0,737.2 2315.5,739.8 2325.5,743.5 2334.2,747.2 2325.5,753.5 2318.0,763.5 2313.0,776.0 2310.5,786.0 2318.0,791.0 2323.0,801.0 2325.5,808.5 2320.5,816.0 2313.0,823.5 2305.5,831.0 2298.0,841.0 2288.0,848.5 2278.0,856.0 2270.5,861.0 2263.0,858.5 2255.5,853.5 2245.5,853.5 2238.0,858.5 2230.5,861.0 2228.0,866.0 2229.2,876.0 2238.0,881.0 2248.0,888.5 2255.5,893.5 2268.0,896.0 2268.0,901.0 2260.5,908.5 2250.5,916.0 2245.5,926.0 2235.5,931.0 2225.5,936.0 2213.0,938.5 2205.5,941.0 2203.0,948.5 2195.5,953.5 2183.0,961.0 2173.0,971.0 2163.0,978.5 2163.0,978.5 2160.0,991.0 2157.5,1006.0 2155.0,1016.0 2147.5,1026.0 2135.0,1031.0 2127.5,1036.0 2122.5,1046.0 2120.0,1061.0 2115.0,1076.0 2110.0,1081.0 2105.0,1088.5 2097.5,1091.0 2095.0,1103.5 2092.5,1113.5 2070.0,1114.8 2045.0,1116.0 2020.0,1116.0 2010.0,1118.0 2007.5,1118.0 2012.5,1130.5 2017.5,1143.0 2015.0,1155.5 2000.0,1168.0 1995.0,1178.0 1977.5,1185.5 1965.0,1190.5 1952.5,1195.5 1952.5,1205.5 1960.0,1210.5 1975.0,1213.0 1990.0,1218.0 2005.0,1223.0 2020.0,1223.0 2027.5,1228.0 2032.5,1238.0 2040.0,1248.0 2045.0,1258.0 2057.5,1260.5 2070.0,1258.0 2082.5,1248.0 2095.0,1243.0 2110.0,1248.0 2120.0,1255.5 2132.5,1260.5 2135.0,1268.0 2130.0,1280.5 2125.0,1293.0 2120.0,1305.5 2115.0,1308.0 2110.0,1313.0 2095.0,1318.0 2082.5,1318.0 2077.5,1325.5 2080.0,1335.5 2095.0,1343.0 2105.0,1348.0 2120.0,1350.5 2132.5,1350.5 2140.0,1345.5 2147.5,1343.0 2150.0,1350.5 2140.0,1355.5 2132.5,1363.0 2130.0,1368.0 2135.0,1373.0 2145.0,1375.5 2155.0,1378.0 2163.0,1378.0 2163.0,1378.0 2173.0,1375.5 2183.0,1380.5 2195.5,1379.2 2193.0,1388.0 2185.5,1393.0 2183.0,1398.0 2193.0,1403.0 2198.0,1410.5 2200.5,1423.0 2208.0,1428.0 2218.0,1423.0 2228.0,1418.0 2238.0,1418.0 2240.5,1425.5 2235.5,1433.0 2230.5,1440.5 2233.0,1453.0 2238.0,1463.0 2240.5,1473.0 2235.5,1480.5 2230.5,1485.5 2233.0,1493.0 2238.0,1493.0 2235.5,1503.0 2233.0,1513.0 2230.5,1523.0 2230.5,1533.0 2235.5,1545.0 2238.0,1545.0 2245.5,1555.0 2250.5,1565.0 2258.0,1575.0 2268.0,1582.5 2275.5,1590.0 2278.0,1600.0 2273.0,1607.5 2263.0,1600.0 2255.5,1597.5 2245.5,1600.0 2235.5,1602.5 2225.5,1607.5 2218.0,1612.5 2223.0,1617.5 2233.0,1617.5 2238.0,1625.0 2240.5,1635.0 2245.5,1645.0 2253.0,1647.5 2263.0,1650.0 2265.5,1655.0 2258.0,1657.5 2250.5,1665.0 2243.0,1672.5 2235.5,1680.0 2225.5,1687.5 2215.5,1695.0 2210.5,1705.0 2208.0,1715.0 2200.5,1720.0 2190.5,1725.0 2183.0,1735.0 2175.5,1742.5 2168.0,1745.0 2163.0,1742.5 2163.0,1742.5 2155.0,1735.0 2145.0,1730.0 2135.0,1715.0 2130.0,1710.0 2125.0,1720.0 2120.0,1730.0 2112.5,1740.0 2105.0,1735.0 2095.0,1737.5 2085.0,1742.5 2080.0,1735.0 2075.0,1725.0 2067.5,1720.0 2060.0,1722.5 2052.5,1730.0 2045.0,1740.0 2040.0,1735.0 2037.5,1725.0 2030.0,1720.0 2020.0,1717.5 2012.5,1720.0 2007.5,1730.0 2000.0,1727.5 1997.5,1717.5 1995.0,1710.0 1990.0,1712.5 1982.5,1717.5 1970.0,1720.0 1957.5,1722.5 1947.5,1722.5 1942.5,1730.0 1937.5,1735.0 1935.0,1745.0 1935.0,1762.5 1930.0,1775.0 1925.0,1785.0 1922.5,1797.5 1925.0,1810.0 1930.0,1822.5 1930.0,1832.5 1927.5,1845.0 1925.0,1855.0 1917.5,1860.0 1922.5,1870.0 1920.0,1880.0 1907.5,1877.5 1900.0,1870.0 1892.5,1872.5 1890.0,1882.5 1892.5,1895.0 1895.0,1907.5 1895.0,1920.0 1892.5,1935.0 1885.0,1942.5 1875.0,1945.0 1870.0,1957.5 1862.5,1960.0 1857.5,1952.5 1850.0,1942.5 1842.5,1940.0 1835.0,1937.5 1830.0,1925.0 1827.5,1917.5 1825.0,1912.5 1820.0,1910.0 1812.5,1910.0 1805.0,1915.0 1805.0,1925.0 1795.0,1922.5 1785.0,1920.0 1780.0,1915.0 1777.5,1902.5 1777.5,1890.0 1775.0,1875.0 1772.5,1857.5 1767.5,1845.0 1765.0,1835.0 1760.0,1827.5 1752.5,1820.0 1747.5,1815.0 1742.5,1800.0 1737.5,1787.5 1737.5,1775.0 1730.0,1772.5 1722.5,1765.0 1720.0,1752.5 1717.5,1742.5 1720.0,1732.5 1725.0,1725.0 1720.0,1720.0 1707.5,1717.5 1695.0,1715.0 1682.5,1710.0 1670.0,1707.5 1660.0,1705.0 1650.0,1710.0 1640.0,1717.5 1632.5,1730.0 1627.5,1745.0 1620.0,1752.5 1620.0,1752.5 1607.0,1745.0 1597.0,1737.5 1597.0,1725.0 1602.0,1717.5 1597.0,1712.5 1587.0,1710.0 1577.0,1705.0 1567.0,1700.0 1559.5,1700.0 1552.0,1695.0 1547.0,1687.5 1539.5,1680.0 1532.0,1670.0 1524.5,1660.0 1517.0,1650.0 1509.5,1640.0 1502.0,1630.0 1494.5,1622.5 1487.0,1625.0 1477.0,1620.0 1467.0,1617.5 1457.0,1615.0 1449.5,1610.0 1444.5,1602.5 1437.0,1605.0 1432.0,1610.0 1427.0,1617.5 1419.5,1620.0 1414.5,1615.0 1409.5,1610.0 1402.0,1602.5 1394.5,1597.5 1389.5,1592.5 1389.5,1585.0 1392.0,1577.5 1387.0,1572.5 1382.0,1570.0 1382.0,1562.5 1377.0,1557.5 1369.5,1555.0 1359.5,1552.5 1347.0,1550.0 1342.0,1547.5 1339.5,1545.0 1342.0,1545.0 1339.5,1530.5 1337.0,1513.0 1332.0,1500.5 1324.5,1493.0 1314.5,1488.0 1304.5,1483.0 1294.5,1485.5 1289.5,1478.0 1289.5,1468.0 1284.5,1463.0 1279.5,1460.5 1274.5,1453.0 1267.0,1448.0 1257.0,1445.5 1247.0,1445.5 1239.5,1440.5 1234.5,1433.0 1229.5,1425.5 1227.0,1418.0 1219.5,1415.5 1212.0,1413.0 1204.5,1408.0 1199.5,1405.5 1192.0,1408.0 1182.0,1408.0 1172.0,1410.5 1162.0,1413.0 1154.5,1418.0 1154.5,1428.0 1159.5,1435.5 1159.5,1440.5 1152.0,1443.0 1149.5,1450.5 1149.5,1460.5 1147.0,1468.0 1142.0,1478.0 1137.0,1483.0 1127.0,1488.0 1119.5,1490.5 1112.0,1495.5 1109.5,1505.5 1102.0,1515.5 1097.0,1525.5 1092.0,1528.0 1087.0,1520.5 1082.0,1513.0 1077.0,1508.0 1077.0,1508.0 1059.0,1505.5 1046.5,1503.0 1034.0,1505.5 1021.5,1508.0 996.5,1505.5 984.0,1510.5 959.0,1518.0 934.0,1523.0 909.0,1528.0 884.0,1523.0 859.0,1520.5 839.0,1520.5 831.5,1528.0 829.0,1545.0 829.0,1545.0 831.5,1555.0 826.5,1565.0 816.5,1572.5 809.0,1580.0 801.5,1585.0 796.5,1590.0 794.0,1600.0 789.0,1610.0 786.5,1620.0 779.0,1625.0 769.0,1622.5 766.5,1615.0 764.0,1607.5 756.5,1600.0 751.5,1595.0 749.0,1585.0 744.0,1577.5 739.0,1570.0 734.0,1562.5 726.5,1555.0 719.0,1547.5 716.5,1545.0 709.0,1545.0 706.5,1530.5 704.0,1518.0 709.0,1503.0 711.5,1488.0 709.0,1473.0 706.5,1463.0 704.0,1453.0 699.0,1443.0 694.0,1430.5 689.0,1420.5 684.0,1413.0 676.5,1410.5 671.5,1415.5 669.0,1408.0 664.0,1398.0 656.5,1390.5 649.0,1383.0 646.5,1375.5 641.5,1368.0 634.0,1363.0 626.5,1358.0 621.5,1348.0 616.5,1338.0 609.0,1333.0 606.5,1323.0 601.5,1313.0 596.5,1303.0 589.0,1298.0 584.0,1293.0 579.0,1288.0 571.5,1288.0 566.5,1290.5 561.5,1283.0 556.5,1275.5 551.5,1268.0 546.5,1258.0 544.0,1248.0 549.0,1240.5 554.0,1235.5 549.0,1228.0 544.0,1218.0 541.5,1210.5 539.0,1203.0 539.0,1198.0 544.0,1195.5 549.0,1190.5 551.5,1183.0 546.5,1178.0 541.5,1173.0 529.0,1170.5 529.0,1161.8" fill="none" stroke="#000" stroke-width="6.5" stroke-linejoin="round"/>
<circle cx="776.5" cy="1121.0" r="5" fill="#000"/>
<text x="778.5" y="1117.4" font-size="16.2" fill="#000">Edmonton</text>
<circle cx="750.3" cy="1356.8" r="5" fill="#000"/>
<text x="752.3" y="1353.2" font-size="16.2" fill="#000">Calgary Int'l</text>
<circle cx="826.5" cy="1513.0" r="5" fill="#000"/>
<text x="828.5" y="1509.4" font-size="16.2" fill="#000">Lethbridge</text>
<circle cx="1279.5" cy="1131.8" r="5" fill="#000"/>
<text x="1281.5" y="1128.2" font-size="16.2" fill="#000">Prince Albert</text>
<circle cx="1212.0" cy="1244.3" r="5" fill="#000"/>
<text x="1214.0" y="1240.7" font-size="16.2" fill="#000">Saskatoon</text>
<circle cx="1152.0" cy="1440.5" r="5" fill="#000"/>
<text x="1154.0" y="1436.9" font-size="16.2" fill="#000">Swift Current</text>
<circle cx="1342.0" cy="1428.0" r="5" fill="#000"/>
<text x="1344.0" y="1424.4" font-size="16.2" fill="#000">Regina</text>
<circle cx="1482.0" cy="1339.3" r="5" fill="#000"/>
<text x="1484.0" y="1335.7" font-size="16.2" fill="#000">Yorkton</text>
<circle cx="1557.0" cy="1250.5" r="5" fill="#000"/>
<text x="1559.0" y="1246.9" font-size="16.2" fill="#000">Swan River</text>
<circle cx="1450.8" cy="1556.3" r="5" fill="#000"/>
<text x="1452.8" y="1552.7" font-size="16.2" fill="#000">Estevan</text>
<circle cx="1558.0" cy="1660.0" r="5" fill="#000"/>
<text x="1560.0" y="1656.4" font-size="16.2" fill="#000">Minot</text>
<circle cx="1820.0" cy="1692.5" r="5" fill="#000"/>
<text x="1822.0" y="1688.9" font-size="16.2" fill="#000">Grand Forks</text>
<circle cx="1838.8" cy="1800.0" r="5" fill="#000"/>
<text x="1840.8" y="1796.4" font-size="16.2" fill="#000">Fargo</text>
<circle cx="1813.8" cy="1580.0" r="5" fill="#000"/>
<text x="1815.8" y="1576.4" font-size="16.2" fill="#000">Emerson</text>
<circle cx="1813.8" cy="1481.8" r="5" fill="#000"/>
<text x="1815.8" y="1478.2" font-size="16.2" fill="#000">Winnipeg</text>
<circle cx="1641.3" cy="1483.0" r="5" fill="#000"/>
<text x="1643.3" y="1479.4" font-size="16.2" fill="#000">Brandon</text>
<circle cx="1635.0" cy="1358.0" r="5" fill="#000"/>
<text x="1637.0" y="1354.4" font-size="16.2" fill="#000">Dauphin</text>
<circle cx="1805.0" cy="1323.0" r="5" fill="#000"/>
<text x="1807.0" y="1319.4" font-size="16.2" fill="#000">Fisher River</text>
<circle cx="1827.5" cy="1223.0" r="5" fill="#000"/>
<text x="1829.5" y="1219.4" font-size="16.2" fill="#000">Berens River</text>
<circle cx="2031.3" cy="1360.5" r="5" fill="#000"/>
<text x="2033.3" y="1356.9" font-size="16.2" fill="#000">Red Lake</text>
<circle cx="1995.0" cy="1495.5" r="5" fill="#000"/>
<text x="1997.0" y="1491.9" font-size="16.2" fill="#000">Kenora</text>
<circle cx="1773.8" cy="1053.5" r="5" fill="#000"/>
<text x="1775.8" y="1049.9" font-size="16.2" fill="#000">Norway House</text>
<circle cx="1977.5" cy="1064.8" r="5" fill="#000"/>
<text x="1979.5" y="1061.2" font-size="16.2" fill="#000">Island Lake</text>
<circle cx="1773.0" cy="856.5" r="5" fill="#000"/>
<text x="1775.0" y="852.9" font-size="16.2" fill="#000">Thompson</text>
<circle cx="1569.5" cy="744.0" r="5" fill="#000"/>
<text x="1571.5" y="740.4" font-size="16.2" fill="#000">Lynn Lake</text>
<circle cx="2015.0" cy="546.5" r="5" fill="#000"/>
<text x="2017.0" y="542.9" font-size="16.2" fill="#000">Churchill</text>
<circle cx="1304.5" cy="927.3" r="5" fill="#000"/>
<text x="1306.5" y="923.7" font-size="16.2" fill="#000">La Ronge</text>
<circle cx="1568.3" cy="1052.3" r="5" fill="#000"/>
<text x="1570.3" y="1048.7" font-size="16.2" fill="#000">The Pas</text>
<rect x="535" y="1702.2" width="703.8" height="255" fill="#fff" stroke="#c8c8c8" stroke-width="2"/>
<g transform="translate(553,1849) scale(1,1.44)"><text x="0" y="0" font-size="83.5" font-weight="bold" fill="#5AB45D" stroke="#5AB45D" stroke-width="3.2" stroke-linejoin="round" textLength="439" lengthAdjust="spacingAndGlyphs">Manitoba</text></g>
<polygon points="1014.4,1750.8 1019.9,1755.3 1025.4,1754.2 1032.0,1750.8 1044.2,1742.0 1055.2,1733.2 1066.2,1725.5 1079.5,1722.1 1088.3,1723.8 1099.4,1729.9 1110.4,1736.5 1121.4,1743.1 1132.5,1749.7 1143.5,1755.3 1154.6,1758.6 1171.1,1763.0 1187.7,1768.5 1198.7,1774.0 1207.6,1782.9 1213.1,1792.8 1217.5,1803.8 1209.8,1795.0 1207.6,1798.3 1208.7,1809.4 1212.0,1820.4 1214.2,1824.8 1212.0,1831.4 1207.6,1842.5 1206.4,1848.6 1197.6,1848.6 1202.0,1840.3 1205.3,1831.4 1204.2,1823.7 1198.7,1818.2 1189.9,1814.9 1187.7,1820.4 1185.5,1831.4 1183.3,1848.6 1173.3,1848.6 1176.6,1837.0 1178.8,1825.9 1176.6,1818.2 1171.1,1812.7 1163.4,1809.4 1155.7,1808.3 1143.5,1816.0 1127.0,1827.0 1110.4,1837.0 1097.2,1848.6 1085.0,1848.6 1090.5,1844.7 1094.9,1838.1 1093.8,1832.5 1089.4,1829.2 1085.0,1828.1 1077.3,1837.0 1068.4,1848.6 1055.2,1848.6 1061.8,1842.5 1068.4,1833.6 1069.6,1825.9 1066.2,1819.3 1061.8,1814.9 1059.6,1814.9 1055.2,1818.2 1054.1,1814.9 1053.0,1811.6 1044.2,1810.5 1038.6,1808.3 1033.1,1803.8 1029.8,1796.1 1026.5,1787.3 1022.1,1776.2 1021.0,1767.4 1022.1,1761.9 1019.9,1757.5" fill="#231F20"/>
<circle cx="1040.8" cy="1787.8" r="4.3" fill="#fff"/>
<text x="553.8" y="1893.6" font-size="35.0" font-weight="bold" fill="#000" textLength="663.5" lengthAdjust="spacingAndGlyphs">Transportation and Infrastructure</text>
<text x="589" y="1929.1" font-size="31.4" font-weight="bold" fill="#1470BE" textLength="595.2" lengthAdjust="spacingAndGlyphs">Hydrologic Forecast Centre (HFC)</text>
</g>
<rect x="534" y="264" width="1802" height="1694" fill="none" stroke="#000" stroke-width="2.2"/>
<text x="687.5" y="1999" font-size="27.78" text-anchor="middle">−115</text>
<text x="1004.1" y="1999" font-size="27.78" text-anchor="middle">−110</text>
<text x="1320.8" y="1999" font-size="27.78" text-anchor="middle">−105</text>
<text x="1637.4" y="1999" font-size="27.78" text-anchor="middle">−100</text>
<text x="1954.0" y="1999" font-size="27.78" text-anchor="middle">−95</text>
<text x="2270.7" y="1999" font-size="27.78" text-anchor="middle">−90</text>
<text x="514.6" y="1910.0" font-size="27.78" text-anchor="end">46</text>
<text x="514.6" y="1697.3" font-size="27.78" text-anchor="end">48</text>
<text x="514.6" y="1484.6" font-size="27.78" text-anchor="end">50</text>
<text x="514.6" y="1271.9" font-size="27.78" text-anchor="end">52</text>
<text x="514.6" y="1059.2" font-size="27.78" text-anchor="end">54</text>
<text x="514.6" y="846.5" font-size="27.78" text-anchor="end">56</text>
<text x="514.6" y="633.8" font-size="27.78" text-anchor="end">58</text>
<text x="514.6" y="421.1" font-size="27.78" text-anchor="end">60</text>
<path d="M687.5,1958 v9.7 M1004.1,1958 v9.7 M1320.8,1958 v9.7 M1637.4,1958 v9.7 M1954.0,1958 v9.7 M2270.7,1958 v9.7 M534,1899.7 h-9.7 M534,1687.0 h-9.7 M534,1474.3 h-9.7 M534,1261.6 h-9.7 M534,1048.9 h-9.7 M534,836.2 h-9.7 M534,623.5 h-9.7 M534,410.8 h-9.7" stroke="#000" stroke-width="2.2" fill="none"/>
<text x="1435" y="2039.3" font-size="27.78" text-anchor="middle">Longitude</text>
<text transform="translate(463.9,1111) rotate(-90)" x="0" y="0" font-size="27.78" text-anchor="middle">Latitude</text>
<text x="1435" y="247.3" font-size="33.33" text-anchor="middle">HRDPA Accumulated Observed Precipitation for past 3 days and 6 hours in mm as of 20251218 PM</text>
<rect x="2386.7" y="930.2" width="215.0" height="844.0999999999999" rx="5.5" fill="#999999" stroke="#c2c2c2" stroke-width="2.2"/>
<rect x="2395.6" y="941.0" width="58.7" height="22.8" fill="#FFFFFF"/>
<text x="2477.2" y="962.4" font-size="27.78">0-1</text>
<rect x="2395.6" y="982.9" width="58.7" height="22.8" fill="#AFEEEE"/>
<text x="2477.2" y="1004.3" font-size="27.78">1-2</text>
<rect x="2395.6" y="1024.8" width="58.7" height="22.8" fill="#87CEFA"/>
<text x="2477.2" y="1046.2" font-size="27.78">2-5</text>
<rect x="2395.6" y="1066.7" width="58.7" height="22.8" fill="#1E90FF"/>
<text x="2477.2" y="1088.1" font-size="27.78">5-10</text>
<rect x="2395.6" y="1108.6" width="58.7" height="22.8" fill="#0000CD"/>
<text x="2477.2" y="1130.0" font-size="27.78">10-15</text>
<rect x="2395.6" y="1150.5" width="58.7" height="22.8" fill="#7CFC00"/>
<text x="2477.2" y="1171.9" font-size="27.78">15-20</text>
<rect x="2395.6" y="1192.4" width="58.7" height="22.8" fill="#32CD32"/>
<text x="2477.2" y="1213.8" font-size="27.78">20-25</text>
<rect x="2395.6" y="1234.3" width="58.7" height="22.8" fill="#228B22"/>
<text x="2477.2" y="1255.7" font-size="27.78">25-30</text>
<rect x="2395.6" y="1276.2" width="58.7" height="22.8" fill="#006400"/>
<text x="2477.2" y="1297.6" font-size="27.78">30-40</text>
<rect x="2395.6" y="1318.1" width="58.7" height="22.8" fill="#FFFF00"/>
<text x="2477.2" y="1339.5" font-size="27.78">40-50</text>
<rect x="2395.6" y="1360.0" width="58.7" height="22.8" fill="#FFA500"/>
<text x="2477.2" y="1381.4" font-size="27.78">50-60</text>
<rect x="2395.6" y="1401.9" width="58.7" height="22.8" fill="#FF8C00"/>
<text x="2477.2" y="1423.3" font-size="27.78">60-70</text>
<rect x="2395.6" y="1443.8" width="58.7" height="22.8" fill="#D2691E"/>
<text x="2477.2" y="1465.2" font-size="27.78">70-80</text>
<rect x="2395.6" y="1485.7" width="58.7" height="22.8" fill="#FF0000"/>
<text x="2477.2" y="1507.1" font-size="27.78">80-90</text>
<rect x="2395.6" y="1527.6" width="58.7" height="22.8" fill="#800000"/>
<text x="2477.2" y="1549.0" font-size="27.78">90-100</text>
<rect x="2395.6" y="1569.5" width="58.7" height="22.8" fill="#CD5C5C"/>
<text x="2477.2" y="1590.9" font-size="27.78">100-110</text>
<rect x="2395.6" y="1611.4" width="58.7" height="22.8" fill="#DB7093"/>
<text x="2477.2" y="1632.8" font-size="27.78">110-120</text>
<rect x="2395.6" y="1653.3" width="58.7" height="22.8" fill="#FFC0CB"/>
<text x="2477.2" y="1674.7" font-size="27.78">120-150</text>
<rect x="2395.6" y="1695.2" width="58.7" height="22.8" fill="#D3D3D3"/>
<text x="2477.2" y="1716.6" font-size="27.78">150-200</text>
<rect x="2395.6" y="1737.1" width="58.7" height="22.8" fill="#FFDAB9"/>
<text x="2477.2" y="1758.5" font-size="27.78">&gt; 200</text>
</svg></body></html>
